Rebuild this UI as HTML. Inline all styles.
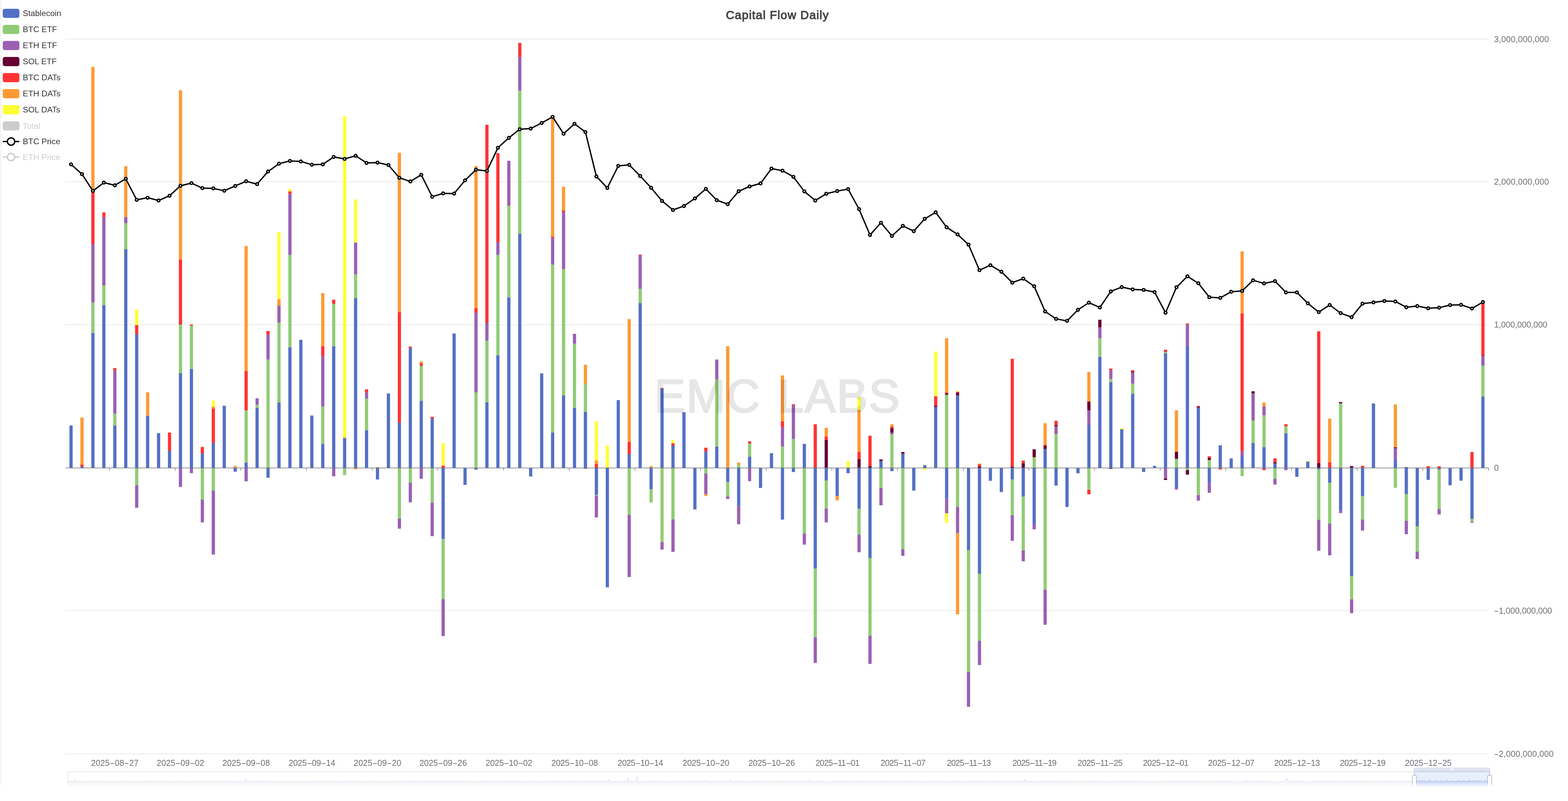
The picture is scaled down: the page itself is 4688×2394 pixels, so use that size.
<!DOCTYPE html>
<html lang="en"><head><meta charset="utf-8"><title>Capital Flow Daily</title>
<style>html,body{margin:0;padding:0;background:#fff;}body{width:4688px;height:2394px;overflow:hidden;font-family:'Liberation Sans', Arial, Helvetica, sans-serif;}svg{display:block;}text{font-family:'Liberation Sans', Arial, Helvetica, sans-serif;}</style>
</head><body>
<svg width="4688" height="2394" viewBox="0 0 4688 2394">
<defs>
<linearGradient id="edge" x1="0" y1="0" x2="1" y2="0"><stop offset="0" stop-color="#f5f5f5"/><stop offset="1" stop-color="#ffffff"/></linearGradient>
<linearGradient id="fade" x1="0" y1="0" x2="0" y2="1"><stop offset="0" stop-color="#fff" stop-opacity="0"/><stop offset="1" stop-color="#fff" stop-opacity="1"/></linearGradient>
</defs>
<rect width="4688" height="2394" fill="#fff"/>
<rect x="0" y="0" width="3.5" height="2394" fill="#f5f5f5"/>
<rect x="3.5" y="0" width="3.5" height="2394" fill="url(#edge)"/>
<g stroke="#e8e8e9" stroke-width="2">
<line x1="196" y1="116.8" x2="4450" y2="116.8"/>
<line x1="196" y1="543.1" x2="4450" y2="543.1"/>
<line x1="196" y1="970.6" x2="4450" y2="970.6"/>
<line x1="196" y1="1825.1" x2="4450" y2="1825.1"/>
<line x1="196" y1="2253.4" x2="4450" y2="2253.4"/>
</g>
<g id="bars">
<rect x="207.6" y="1271.6" width="9.6" height="127.1" fill="#5470c6"/>
<rect x="240.3" y="1394.9" width="9.6" height="3.8" fill="#5470c6"/>
<rect x="240.3" y="1389" width="9.6" height="5.9" fill="#ff3333"/>
<rect x="240.3" y="1247.8" width="9.6" height="141.2" fill="#ff9933"/>
<rect x="273" y="995.2" width="9.6" height="403.5" fill="#5470c6"/>
<rect x="273" y="904.6" width="9.6" height="90.6" fill="#91cc75"/>
<rect x="273" y="730.1" width="9.6" height="174.5" fill="#9a60b4"/>
<rect x="273" y="571" width="9.6" height="159.1" fill="#ff3333"/>
<rect x="273" y="200.1" width="9.6" height="370.9" fill="#ff9933"/>
<rect x="305.7" y="912" width="9.6" height="486.7" fill="#5470c6"/>
<rect x="305.7" y="853.5" width="9.6" height="58.5" fill="#91cc75"/>
<rect x="305.7" y="648.8" width="9.6" height="204.7" fill="#9a60b4"/>
<rect x="305.7" y="635" width="9.6" height="13.9" fill="#ff3333"/>
<rect x="338.5" y="1271.6" width="9.6" height="127.1" fill="#5470c6"/>
<rect x="338.5" y="1236.4" width="9.6" height="35.2" fill="#91cc75"/>
<rect x="338.5" y="1107.6" width="9.6" height="128.8" fill="#9a60b4"/>
<rect x="338.5" y="1100.2" width="9.6" height="7.4" fill="#ff3333"/>
<rect x="371.2" y="744.9" width="9.6" height="653.8" fill="#5470c6"/>
<rect x="371.2" y="667.2" width="9.6" height="77.8" fill="#91cc75"/>
<rect x="371.2" y="648.8" width="9.6" height="18.3" fill="#9a60b4"/>
<rect x="371.2" y="496.8" width="9.6" height="152.1" fill="#ff9933"/>
<rect x="403.9" y="998.7" width="9.6" height="400" fill="#5470c6"/>
<rect x="403.9" y="971.4" width="9.6" height="27.2" fill="#ff3333"/>
<rect x="403.9" y="925.4" width="9.6" height="46.1" fill="#ffff33"/>
<rect x="403.9" y="1398.7" width="9.6" height="51.1" fill="#91cc75"/>
<rect x="403.9" y="1449.8" width="9.6" height="67.9" fill="#9a60b4"/>
<rect x="436.6" y="1242.4" width="9.6" height="156.3" fill="#5470c6"/>
<rect x="436.6" y="1172.5" width="9.6" height="69.8" fill="#ff9933"/>
<rect x="469.3" y="1294.4" width="9.6" height="104.3" fill="#5470c6"/>
<rect x="502.1" y="1346.9" width="9.6" height="51.8" fill="#5470c6"/>
<rect x="502.1" y="1292.9" width="9.6" height="54" fill="#ff3333"/>
<rect x="534.8" y="1115.1" width="9.6" height="283.6" fill="#5470c6"/>
<rect x="534.8" y="969.9" width="9.6" height="145.1" fill="#91cc75"/>
<rect x="534.8" y="775.8" width="9.6" height="194.2" fill="#ff3333"/>
<rect x="534.8" y="269.9" width="9.6" height="505.9" fill="#ff9933"/>
<rect x="534.8" y="1398.7" width="9.6" height="56.6" fill="#9a60b4"/>
<rect x="567.5" y="1102.7" width="9.6" height="296" fill="#5470c6"/>
<rect x="567.5" y="973.4" width="9.6" height="129.3" fill="#91cc75"/>
<rect x="567.5" y="969.9" width="9.6" height="3.5" fill="#ff3333"/>
<rect x="567.5" y="1398.7" width="9.6" height="15.5" fill="#9a60b4"/>
<rect x="600.2" y="1355.3" width="9.6" height="43.4" fill="#5470c6"/>
<rect x="600.2" y="1337" width="9.6" height="18.3" fill="#ff3333"/>
<rect x="600.2" y="1335" width="9.6" height="2" fill="#ff9933"/>
<rect x="600.2" y="1398.7" width="9.6" height="94.2" fill="#91cc75"/>
<rect x="600.2" y="1492.9" width="9.6" height="68.4" fill="#9a60b4"/>
<rect x="633" y="1324.1" width="9.6" height="74.6" fill="#5470c6"/>
<rect x="633" y="1220.6" width="9.6" height="103.5" fill="#ff3333"/>
<rect x="633" y="1215.1" width="9.6" height="5.4" fill="#ff9933"/>
<rect x="633" y="1197.3" width="9.6" height="17.8" fill="#ffff33"/>
<rect x="633" y="1398.7" width="9.6" height="67.5" fill="#91cc75"/>
<rect x="633" y="1466.2" width="9.6" height="191.2" fill="#9a60b4"/>
<rect x="665.7" y="1212.7" width="9.6" height="186" fill="#5470c6"/>
<rect x="698.4" y="1392.5" width="9.6" height="6.2" fill="#ff9933"/>
<rect x="698.4" y="1398.7" width="9.6" height="11" fill="#5470c6"/>
<rect x="731.1" y="1382.6" width="9.6" height="16.1" fill="#5470c6"/>
<rect x="731.1" y="1226.5" width="9.6" height="156" fill="#91cc75"/>
<rect x="731.1" y="1109.1" width="9.6" height="117.4" fill="#ff3333"/>
<rect x="731.1" y="735.5" width="9.6" height="373.6" fill="#ff9933"/>
<rect x="731.1" y="1398.7" width="9.6" height="39.8" fill="#9a60b4"/>
<rect x="763.9" y="1218.6" width="9.6" height="180.1" fill="#5470c6"/>
<rect x="763.9" y="1209.7" width="9.6" height="8.9" fill="#91cc75"/>
<rect x="763.9" y="1190.4" width="9.6" height="19.3" fill="#9a60b4"/>
<rect x="796.6" y="1074.5" width="9.6" height="324.2" fill="#91cc75"/>
<rect x="796.6" y="1000.2" width="9.6" height="74.3" fill="#9a60b4"/>
<rect x="796.6" y="989.3" width="9.6" height="10.9" fill="#ff3333"/>
<rect x="796.6" y="1398.7" width="9.6" height="29.3" fill="#5470c6"/>
<rect x="829.3" y="1202.8" width="9.6" height="195.9" fill="#5470c6"/>
<rect x="829.3" y="964" width="9.6" height="238.8" fill="#91cc75"/>
<rect x="829.3" y="913.5" width="9.6" height="50.5" fill="#9a60b4"/>
<rect x="829.3" y="893.7" width="9.6" height="19.8" fill="#ff9933"/>
<rect x="829.3" y="693.4" width="9.6" height="200.2" fill="#ffff33"/>
<rect x="862" y="1037.8" width="9.6" height="360.9" fill="#5470c6"/>
<rect x="862" y="761.9" width="9.6" height="275.9" fill="#91cc75"/>
<rect x="862" y="579.5" width="9.6" height="182.4" fill="#9a60b4"/>
<rect x="862" y="572.1" width="9.6" height="7.4" fill="#ff3333"/>
<rect x="862" y="564.6" width="9.6" height="7.4" fill="#ffff33"/>
<rect x="894.7" y="1015.5" width="9.6" height="383.2" fill="#5470c6"/>
<rect x="927.5" y="1241.9" width="9.6" height="156.8" fill="#5470c6"/>
<rect x="960.2" y="1326.6" width="9.6" height="72.1" fill="#5470c6"/>
<rect x="960.2" y="1215.1" width="9.6" height="111.5" fill="#91cc75"/>
<rect x="960.2" y="1064.6" width="9.6" height="150.6" fill="#9a60b4"/>
<rect x="960.2" y="1034.3" width="9.6" height="30.2" fill="#ff3333"/>
<rect x="960.2" y="875.8" width="9.6" height="158.5" fill="#ff9933"/>
<rect x="992.9" y="1034.8" width="9.6" height="363.9" fill="#5470c6"/>
<rect x="992.9" y="908" width="9.6" height="126.8" fill="#91cc75"/>
<rect x="992.9" y="895.6" width="9.6" height="12.4" fill="#ff3333"/>
<rect x="992.9" y="1398.7" width="9.6" height="24.9" fill="#9a60b4"/>
<rect x="1025.6" y="1309.7" width="9.6" height="89" fill="#5470c6"/>
<rect x="1025.6" y="1306.8" width="9.6" height="3" fill="#ff9933"/>
<rect x="1025.6" y="347.7" width="9.6" height="959.1" fill="#ffff33"/>
<rect x="1025.6" y="1398.7" width="9.6" height="21.4" fill="#91cc75"/>
<rect x="1058.4" y="890.7" width="9.6" height="508" fill="#5470c6"/>
<rect x="1058.4" y="820.3" width="9.6" height="70.3" fill="#91cc75"/>
<rect x="1058.4" y="725.1" width="9.6" height="95.2" fill="#9a60b4"/>
<rect x="1058.4" y="596.3" width="9.6" height="128.8" fill="#ffff33"/>
<rect x="1058.4" y="1398.7" width="9.6" height="4.1" fill="#ff9933"/>
<rect x="1091.1" y="1286" width="9.6" height="112.7" fill="#5470c6"/>
<rect x="1091.1" y="1191.4" width="9.6" height="94.6" fill="#91cc75"/>
<rect x="1091.1" y="1172.5" width="9.6" height="18.8" fill="#9a60b4"/>
<rect x="1091.1" y="1163.6" width="9.6" height="8.9" fill="#ff3333"/>
<rect x="1123.8" y="1395.9" width="9.6" height="2.8" fill="#ff9933"/>
<rect x="1123.8" y="1398.7" width="9.6" height="34.3" fill="#5470c6"/>
<rect x="1156.5" y="1176" width="9.6" height="222.7" fill="#5470c6"/>
<rect x="1189.3" y="1263.2" width="9.6" height="135.5" fill="#5470c6"/>
<rect x="1189.3" y="932.8" width="9.6" height="330.4" fill="#ff3333"/>
<rect x="1189.3" y="456.6" width="9.6" height="476.1" fill="#ff9933"/>
<rect x="1189.3" y="1398.7" width="9.6" height="151.2" fill="#91cc75"/>
<rect x="1189.3" y="1549.9" width="9.6" height="30.2" fill="#9a60b4"/>
<rect x="1222" y="1039.8" width="9.6" height="358.9" fill="#5470c6"/>
<rect x="1222" y="1035.8" width="9.6" height="4" fill="#ff3333"/>
<rect x="1222" y="1398.7" width="9.6" height="43.7" fill="#91cc75"/>
<rect x="1222" y="1442.4" width="9.6" height="58.9" fill="#9a60b4"/>
<rect x="1254.7" y="1197.8" width="9.6" height="200.9" fill="#5470c6"/>
<rect x="1254.7" y="1093.8" width="9.6" height="104" fill="#91cc75"/>
<rect x="1254.7" y="1085.4" width="9.6" height="8.4" fill="#ff3333"/>
<rect x="1254.7" y="1080.4" width="9.6" height="5" fill="#ff9933"/>
<rect x="1254.7" y="1398.7" width="9.6" height="32.3" fill="#9a60b4"/>
<rect x="1287.4" y="1251.3" width="9.6" height="147.4" fill="#5470c6"/>
<rect x="1287.4" y="1245.8" width="9.6" height="5.4" fill="#ff3333"/>
<rect x="1287.4" y="1398.7" width="9.6" height="103.6" fill="#91cc75"/>
<rect x="1287.4" y="1502.3" width="9.6" height="100.1" fill="#9a60b4"/>
<rect x="1320.1" y="1391.5" width="9.6" height="7.2" fill="#ff3333"/>
<rect x="1320.1" y="1324.6" width="9.6" height="66.9" fill="#ffff33"/>
<rect x="1320.1" y="1398.7" width="9.6" height="212.1" fill="#5470c6"/>
<rect x="1320.1" y="1610.8" width="9.6" height="179.8" fill="#91cc75"/>
<rect x="1320.1" y="1790.6" width="9.6" height="110.5" fill="#9a60b4"/>
<rect x="1352.9" y="996.7" width="9.6" height="402" fill="#5470c6"/>
<rect x="1385.6" y="1398.7" width="9.6" height="50.6" fill="#5470c6"/>
<rect x="1418.3" y="1172.5" width="9.6" height="226.2" fill="#91cc75"/>
<rect x="1418.3" y="934.3" width="9.6" height="238.3" fill="#9a60b4"/>
<rect x="1418.3" y="920.9" width="9.6" height="13.4" fill="#ff3333"/>
<rect x="1418.3" y="496.3" width="9.6" height="424.6" fill="#ff9933"/>
<rect x="1418.3" y="1398.7" width="9.6" height="5.1" fill="#5470c6"/>
<rect x="1451" y="1201.8" width="9.6" height="196.9" fill="#5470c6"/>
<rect x="1451" y="1018.5" width="9.6" height="183.3" fill="#91cc75"/>
<rect x="1451" y="965" width="9.6" height="53.5" fill="#9a60b4"/>
<rect x="1451" y="372.9" width="9.6" height="592.1" fill="#ff3333"/>
<rect x="1483.8" y="1061.6" width="9.6" height="337.1" fill="#5470c6"/>
<rect x="1483.8" y="761.9" width="9.6" height="299.7" fill="#91cc75"/>
<rect x="1483.8" y="724.1" width="9.6" height="37.8" fill="#9a60b4"/>
<rect x="1483.8" y="457.6" width="9.6" height="266.5" fill="#ff3333"/>
<rect x="1516.5" y="888.7" width="9.6" height="510" fill="#5470c6"/>
<rect x="1516.5" y="615.2" width="9.6" height="273.5" fill="#91cc75"/>
<rect x="1516.5" y="480.4" width="9.6" height="134.7" fill="#9a60b4"/>
<rect x="1549.2" y="698.4" width="9.6" height="700.3" fill="#5470c6"/>
<rect x="1549.2" y="270.9" width="9.6" height="427.5" fill="#91cc75"/>
<rect x="1549.2" y="170.8" width="9.6" height="100.1" fill="#9a60b4"/>
<rect x="1549.2" y="128.2" width="9.6" height="42.6" fill="#ff3333"/>
<rect x="1581.9" y="1398.7" width="9.6" height="25.4" fill="#5470c6"/>
<rect x="1614.7" y="1116.1" width="9.6" height="282.6" fill="#5470c6"/>
<rect x="1647.4" y="1292.4" width="9.6" height="106.3" fill="#5470c6"/>
<rect x="1647.4" y="790.6" width="9.6" height="501.8" fill="#91cc75"/>
<rect x="1647.4" y="710.3" width="9.6" height="80.4" fill="#9a60b4"/>
<rect x="1647.4" y="706.8" width="9.6" height="3.5" fill="#ff3333"/>
<rect x="1647.4" y="352.6" width="9.6" height="354.2" fill="#ff9933"/>
<rect x="1680.1" y="1181.5" width="9.6" height="217.2" fill="#5470c6"/>
<rect x="1680.1" y="804.5" width="9.6" height="377" fill="#91cc75"/>
<rect x="1680.1" y="634" width="9.6" height="170.5" fill="#9a60b4"/>
<rect x="1680.1" y="629" width="9.6" height="5" fill="#ff3333"/>
<rect x="1680.1" y="558.2" width="9.6" height="70.8" fill="#ff9933"/>
<rect x="1712.8" y="1219.1" width="9.6" height="179.6" fill="#5470c6"/>
<rect x="1712.8" y="1027.4" width="9.6" height="191.7" fill="#91cc75"/>
<rect x="1712.8" y="997.7" width="9.6" height="29.7" fill="#9a60b4"/>
<rect x="1745.5" y="1230.5" width="9.6" height="168.2" fill="#5470c6"/>
<rect x="1745.5" y="1147.3" width="9.6" height="83.2" fill="#91cc75"/>
<rect x="1745.5" y="1090.3" width="9.6" height="57" fill="#ff9933"/>
<rect x="1745.5" y="1398.7" width="9.6" height="2.6" fill="#9a60b4"/>
<rect x="1778.3" y="1386.5" width="9.6" height="12.2" fill="#ff3333"/>
<rect x="1778.3" y="1376.1" width="9.6" height="10.4" fill="#ff9933"/>
<rect x="1778.3" y="1259.2" width="9.6" height="116.9" fill="#ffff33"/>
<rect x="1778.3" y="1398.7" width="9.6" height="80.4" fill="#5470c6"/>
<rect x="1778.3" y="1479.1" width="9.6" height="2.5" fill="#91cc75"/>
<rect x="1778.3" y="1481.5" width="9.6" height="64.9" fill="#9a60b4"/>
<rect x="1811" y="1331.5" width="9.6" height="67.2" fill="#ffff33"/>
<rect x="1811" y="1398.7" width="9.6" height="356.8" fill="#5470c6"/>
<rect x="1843.7" y="1195.8" width="9.6" height="202.9" fill="#5470c6"/>
<rect x="1876.4" y="1356.8" width="9.6" height="41.9" fill="#5470c6"/>
<rect x="1876.4" y="1320.6" width="9.6" height="36.2" fill="#ff3333"/>
<rect x="1876.4" y="953.6" width="9.6" height="367" fill="#ff9933"/>
<rect x="1876.4" y="1398.7" width="9.6" height="139.8" fill="#91cc75"/>
<rect x="1876.4" y="1538.5" width="9.6" height="186.2" fill="#9a60b4"/>
<rect x="1909.2" y="906" width="9.6" height="492.7" fill="#5470c6"/>
<rect x="1909.2" y="862.9" width="9.6" height="43.1" fill="#91cc75"/>
<rect x="1909.2" y="763.4" width="9.6" height="99.6" fill="#9a60b4"/>
<rect x="1909.2" y="760.9" width="9.6" height="2.5" fill="#ff3333"/>
<rect x="1941.9" y="1392.9" width="9.6" height="5.8" fill="#ff9933"/>
<rect x="1941.9" y="1398.7" width="9.6" height="63.5" fill="#5470c6"/>
<rect x="1941.9" y="1462.2" width="9.6" height="39.6" fill="#91cc75"/>
<rect x="1974.6" y="1161.1" width="9.6" height="237.6" fill="#5470c6"/>
<rect x="1974.6" y="1159.7" width="9.6" height="1.5" fill="#ff3333"/>
<rect x="1974.6" y="1398.7" width="9.6" height="221.5" fill="#91cc75"/>
<rect x="1974.6" y="1620.2" width="9.6" height="22.3" fill="#9a60b4"/>
<rect x="2007.3" y="1332" width="9.6" height="66.7" fill="#5470c6"/>
<rect x="2007.3" y="1324.6" width="9.6" height="7.4" fill="#ff3333"/>
<rect x="2007.3" y="1315.7" width="9.6" height="8.9" fill="#ffff33"/>
<rect x="2007.3" y="1398.7" width="9.6" height="153.7" fill="#91cc75"/>
<rect x="2007.3" y="1552.4" width="9.6" height="97.1" fill="#9a60b4"/>
<rect x="2040.1" y="1232" width="9.6" height="166.7" fill="#5470c6"/>
<rect x="2072.8" y="1398.7" width="9.6" height="124" fill="#5470c6"/>
<rect x="2105.5" y="1349.4" width="9.6" height="49.3" fill="#5470c6"/>
<rect x="2105.5" y="1338" width="9.6" height="11.4" fill="#ff3333"/>
<rect x="2105.5" y="1398.7" width="9.6" height="16.5" fill="#91cc75"/>
<rect x="2105.5" y="1415.2" width="9.6" height="61.9" fill="#9a60b4"/>
<rect x="2105.5" y="1477.1" width="9.6" height="5.4" fill="#ff9933"/>
<rect x="2138.2" y="1334.5" width="9.6" height="64.2" fill="#5470c6"/>
<rect x="2138.2" y="1133.9" width="9.6" height="200.6" fill="#91cc75"/>
<rect x="2138.2" y="1074.5" width="9.6" height="59.4" fill="#9a60b4"/>
<rect x="2170.9" y="1034.8" width="9.6" height="363.9" fill="#ff9933"/>
<rect x="2170.9" y="1398.7" width="9.6" height="41.7" fill="#5470c6"/>
<rect x="2170.9" y="1440.4" width="9.6" height="43.6" fill="#91cc75"/>
<rect x="2170.9" y="1484" width="9.6" height="7.4" fill="#9a60b4"/>
<rect x="2203.7" y="1389" width="9.6" height="9.7" fill="#91cc75"/>
<rect x="2203.7" y="1382.6" width="9.6" height="6.4" fill="#ff9933"/>
<rect x="2203.7" y="1398.7" width="9.6" height="113.6" fill="#5470c6"/>
<rect x="2203.7" y="1512.3" width="9.6" height="54.5" fill="#9a60b4"/>
<rect x="2236.4" y="1364.7" width="9.6" height="34" fill="#5470c6"/>
<rect x="2236.4" y="1325.6" width="9.6" height="39.1" fill="#91cc75"/>
<rect x="2236.4" y="1319.2" width="9.6" height="6.4" fill="#ff3333"/>
<rect x="2236.4" y="1398.7" width="9.6" height="39.3" fill="#9a60b4"/>
<rect x="2269.1" y="1398.7" width="9.6" height="59.6" fill="#5470c6"/>
<rect x="2301.8" y="1354.3" width="9.6" height="44.4" fill="#5470c6"/>
<rect x="2334.6" y="1334.5" width="9.6" height="64.2" fill="#91cc75"/>
<rect x="2334.6" y="1277.1" width="9.6" height="57.5" fill="#9a60b4"/>
<rect x="2334.6" y="1258.7" width="9.6" height="18.3" fill="#ff3333"/>
<rect x="2334.6" y="1122" width="9.6" height="136.7" fill="#ff9933"/>
<rect x="2334.6" y="1398.7" width="9.6" height="154.2" fill="#5470c6"/>
<rect x="2367.3" y="1311.7" width="9.6" height="87" fill="#91cc75"/>
<rect x="2367.3" y="1211.7" width="9.6" height="100.1" fill="#9a60b4"/>
<rect x="2367.3" y="1208.2" width="9.6" height="3.5" fill="#ff3333"/>
<rect x="2367.3" y="1398.7" width="9.6" height="12" fill="#5470c6"/>
<rect x="2400" y="1326.6" width="9.6" height="72.1" fill="#5470c6"/>
<rect x="2400" y="1398.7" width="9.6" height="195.8" fill="#91cc75"/>
<rect x="2400" y="1594.5" width="9.6" height="33.2" fill="#9a60b4"/>
<rect x="2432.7" y="1268.1" width="9.6" height="130.6" fill="#ff3333"/>
<rect x="2432.7" y="1398.7" width="9.6" height="300.3" fill="#5470c6"/>
<rect x="2432.7" y="1699" width="9.6" height="206.1" fill="#91cc75"/>
<rect x="2432.7" y="1905.1" width="9.6" height="76.3" fill="#9a60b4"/>
<rect x="2465.5" y="1314.7" width="9.6" height="84" fill="#660033"/>
<rect x="2465.5" y="1304.3" width="9.6" height="10.4" fill="#ff3333"/>
<rect x="2465.5" y="1278.5" width="9.6" height="25.8" fill="#ff9933"/>
<rect x="2465.5" y="1398.7" width="9.6" height="37.8" fill="#5470c6"/>
<rect x="2465.5" y="1436.5" width="9.6" height="83.2" fill="#91cc75"/>
<rect x="2465.5" y="1519.7" width="9.6" height="41.6" fill="#9a60b4"/>
<rect x="2498.2" y="1398.7" width="9.6" height="83.3" fill="#5470c6"/>
<rect x="2498.2" y="1482" width="9.6" height="13.4" fill="#ff9933"/>
<rect x="2530.9" y="1377.6" width="9.6" height="21.1" fill="#ffff33"/>
<rect x="2530.9" y="1398.7" width="9.6" height="15.5" fill="#5470c6"/>
<rect x="2563.6" y="1371.7" width="9.6" height="27" fill="#660033"/>
<rect x="2563.6" y="1350.4" width="9.6" height="21.3" fill="#ff3333"/>
<rect x="2563.6" y="1225" width="9.6" height="125.3" fill="#ff9933"/>
<rect x="2563.6" y="1187.4" width="9.6" height="37.6" fill="#ffff33"/>
<rect x="2563.6" y="1398.7" width="9.6" height="122" fill="#5470c6"/>
<rect x="2563.6" y="1520.7" width="9.6" height="77.3" fill="#91cc75"/>
<rect x="2563.6" y="1598" width="9.6" height="52.5" fill="#9a60b4"/>
<rect x="2596.3" y="1392.5" width="9.6" height="6.2" fill="#660033"/>
<rect x="2596.3" y="1302.3" width="9.6" height="90.2" fill="#ff3333"/>
<rect x="2596.3" y="1398.7" width="9.6" height="269.6" fill="#5470c6"/>
<rect x="2596.3" y="1668.3" width="9.6" height="231.8" fill="#91cc75"/>
<rect x="2596.3" y="1900.1" width="9.6" height="84.2" fill="#9a60b4"/>
<rect x="2629.1" y="1378.1" width="9.6" height="20.6" fill="#5470c6"/>
<rect x="2629.1" y="1373.1" width="9.6" height="5" fill="#660033"/>
<rect x="2629.1" y="1398.7" width="9.6" height="59.1" fill="#91cc75"/>
<rect x="2629.1" y="1457.8" width="9.6" height="52.5" fill="#9a60b4"/>
<rect x="2661.8" y="1298.4" width="9.6" height="100.3" fill="#91cc75"/>
<rect x="2661.8" y="1293.4" width="9.6" height="5" fill="#9a60b4"/>
<rect x="2661.8" y="1280" width="9.6" height="13.4" fill="#660033"/>
<rect x="2661.8" y="1274.6" width="9.6" height="5.4" fill="#ff3333"/>
<rect x="2661.8" y="1268.1" width="9.6" height="6.4" fill="#ff9933"/>
<rect x="2661.8" y="1398.7" width="9.6" height="9.5" fill="#5470c6"/>
<rect x="2694.5" y="1356.3" width="9.6" height="42.4" fill="#5470c6"/>
<rect x="2694.5" y="1350.9" width="9.6" height="5.4" fill="#660033"/>
<rect x="2694.5" y="1398.7" width="9.6" height="242.8" fill="#91cc75"/>
<rect x="2694.5" y="1641.5" width="9.6" height="19.8" fill="#9a60b4"/>
<rect x="2727.2" y="1398.7" width="9.6" height="67.5" fill="#5470c6"/>
<rect x="2760" y="1390.3" width="9.6" height="8.4" fill="#5470c6"/>
<rect x="2760" y="1398.7" width="9.6" height="5.5" fill="#ffff33"/>
<rect x="2792.7" y="1216" width="9.6" height="182.7" fill="#5470c6"/>
<rect x="2792.7" y="1213" width="9.6" height="3" fill="#660033"/>
<rect x="2792.7" y="1184.3" width="9.6" height="28.7" fill="#ff3333"/>
<rect x="2792.7" y="1051" width="9.6" height="133.2" fill="#ffff33"/>
<rect x="2825.4" y="1179.8" width="9.6" height="218.9" fill="#91cc75"/>
<rect x="2825.4" y="1175.8" width="9.6" height="4" fill="#660033"/>
<rect x="2825.4" y="1172.9" width="9.6" height="3" fill="#ff3333"/>
<rect x="2825.4" y="1010.9" width="9.6" height="162" fill="#ff9933"/>
<rect x="2825.4" y="1398.7" width="9.6" height="91.7" fill="#5470c6"/>
<rect x="2825.4" y="1490.4" width="9.6" height="43.6" fill="#9a60b4"/>
<rect x="2825.4" y="1534" width="9.6" height="29.2" fill="#ffff33"/>
<rect x="2858.1" y="1181.8" width="9.6" height="216.9" fill="#5470c6"/>
<rect x="2858.1" y="1173.4" width="9.6" height="8.4" fill="#660033"/>
<rect x="2858.1" y="1170.9" width="9.6" height="2.5" fill="#ff3333"/>
<rect x="2858.1" y="1168.4" width="9.6" height="2.5" fill="#ffff33"/>
<rect x="2858.1" y="1398.7" width="9.6" height="116.5" fill="#91cc75"/>
<rect x="2858.1" y="1515.2" width="9.6" height="78.3" fill="#9a60b4"/>
<rect x="2858.1" y="1593.4" width="9.6" height="242.7" fill="#ff9933"/>
<rect x="2890.9" y="1398.7" width="9.6" height="245.3" fill="#5470c6"/>
<rect x="2890.9" y="1644" width="9.6" height="364.1" fill="#91cc75"/>
<rect x="2890.9" y="2008" width="9.6" height="104.5" fill="#9a60b4"/>
<rect x="2923.6" y="1393.8" width="9.6" height="4.9" fill="#660033"/>
<rect x="2923.6" y="1387.9" width="9.6" height="5.9" fill="#ff3333"/>
<rect x="2923.6" y="1385.4" width="9.6" height="2.5" fill="#ff9933"/>
<rect x="2923.6" y="1398.7" width="9.6" height="316.6" fill="#5470c6"/>
<rect x="2923.6" y="1715.3" width="9.6" height="199.6" fill="#91cc75"/>
<rect x="2923.6" y="1914.9" width="9.6" height="72.8" fill="#9a60b4"/>
<rect x="2956.3" y="1398.7" width="9.6" height="38.2" fill="#5470c6"/>
<rect x="2989" y="1398.7" width="9.6" height="71.9" fill="#5470c6"/>
<rect x="3021.7" y="1394.8" width="9.6" height="3.9" fill="#660033"/>
<rect x="3021.7" y="1072.3" width="9.6" height="322.5" fill="#ff3333"/>
<rect x="3021.7" y="1398.7" width="9.6" height="34.7" fill="#5470c6"/>
<rect x="3021.7" y="1433.4" width="9.6" height="106.5" fill="#91cc75"/>
<rect x="3021.7" y="1539.9" width="9.6" height="76.3" fill="#9a60b4"/>
<rect x="3054.5" y="1384.9" width="9.6" height="13.8" fill="#660033"/>
<rect x="3054.5" y="1376.5" width="9.6" height="8.4" fill="#ff3333"/>
<rect x="3054.5" y="1398.7" width="9.6" height="85.7" fill="#5470c6"/>
<rect x="3054.5" y="1484.4" width="9.6" height="160.5" fill="#91cc75"/>
<rect x="3054.5" y="1645" width="9.6" height="32.7" fill="#9a60b4"/>
<rect x="3087.2" y="1366.6" width="9.6" height="32.1" fill="#91cc75"/>
<rect x="3087.2" y="1342.8" width="9.6" height="23.8" fill="#660033"/>
<rect x="3087.2" y="1398.7" width="9.6" height="167.5" fill="#5470c6"/>
<rect x="3087.2" y="1566.2" width="9.6" height="15.9" fill="#9a60b4"/>
<rect x="3119.9" y="1341.8" width="9.6" height="56.9" fill="#5470c6"/>
<rect x="3119.9" y="1331.9" width="9.6" height="9.9" fill="#660033"/>
<rect x="3119.9" y="1329.4" width="9.6" height="2.5" fill="#ff3333"/>
<rect x="3119.9" y="1265" width="9.6" height="64.4" fill="#ff9933"/>
<rect x="3119.9" y="1398.7" width="9.6" height="364.1" fill="#91cc75"/>
<rect x="3119.9" y="1762.8" width="9.6" height="104.5" fill="#9a60b4"/>
<rect x="3152.6" y="1297.7" width="9.6" height="101" fill="#91cc75"/>
<rect x="3152.6" y="1273.9" width="9.6" height="23.8" fill="#9a60b4"/>
<rect x="3152.6" y="1271" width="9.6" height="3" fill="#660033"/>
<rect x="3152.6" y="1257.6" width="9.6" height="13.4" fill="#ff3333"/>
<rect x="3152.6" y="1398.7" width="9.6" height="52.6" fill="#5470c6"/>
<rect x="3185.4" y="1398.7" width="9.6" height="116.5" fill="#5470c6"/>
<rect x="3218.1" y="1398.7" width="9.6" height="15.9" fill="#5470c6"/>
<rect x="3250.8" y="1270" width="9.6" height="128.7" fill="#5470c6"/>
<rect x="3250.8" y="1226.4" width="9.6" height="43.6" fill="#9a60b4"/>
<rect x="3250.8" y="1200.1" width="9.6" height="26.3" fill="#660033"/>
<rect x="3250.8" y="1111.9" width="9.6" height="88.2" fill="#ff9933"/>
<rect x="3250.8" y="1398.7" width="9.6" height="64.9" fill="#91cc75"/>
<rect x="3250.8" y="1463.6" width="9.6" height="13.9" fill="#ff3333"/>
<rect x="3283.5" y="1066.9" width="9.6" height="331.8" fill="#5470c6"/>
<rect x="3283.5" y="1010.9" width="9.6" height="56" fill="#91cc75"/>
<rect x="3283.5" y="977.9" width="9.6" height="33" fill="#9a60b4"/>
<rect x="3283.5" y="955.6" width="9.6" height="22.3" fill="#660033"/>
<rect x="3316.3" y="1141.7" width="9.6" height="257" fill="#5470c6"/>
<rect x="3316.3" y="1132.8" width="9.6" height="8.9" fill="#91cc75"/>
<rect x="3316.3" y="1106.5" width="9.6" height="26.3" fill="#9a60b4"/>
<rect x="3316.3" y="1101.5" width="9.6" height="5" fill="#ff3333"/>
<rect x="3316.3" y="1398.7" width="9.6" height="2.5" fill="#660033"/>
<rect x="3349" y="1282.8" width="9.6" height="115.9" fill="#5470c6"/>
<rect x="3349" y="1278.9" width="9.6" height="4" fill="#ffff33"/>
<rect x="3381.7" y="1176.8" width="9.6" height="221.9" fill="#5470c6"/>
<rect x="3381.7" y="1146.6" width="9.6" height="30.2" fill="#91cc75"/>
<rect x="3381.7" y="1112.9" width="9.6" height="33.7" fill="#9a60b4"/>
<rect x="3381.7" y="1111" width="9.6" height="2" fill="#660033"/>
<rect x="3381.7" y="1106.5" width="9.6" height="4.5" fill="#ff3333"/>
<rect x="3414.4" y="1398.7" width="9.6" height="11.9" fill="#5470c6"/>
<rect x="3447.1" y="1392.3" width="9.6" height="6.4" fill="#5470c6"/>
<rect x="3479.9" y="1056" width="9.6" height="342.7" fill="#5470c6"/>
<rect x="3479.9" y="1052" width="9.6" height="4" fill="#91cc75"/>
<rect x="3479.9" y="1045.1" width="9.6" height="6.9" fill="#ff3333"/>
<rect x="3479.9" y="1398.7" width="9.6" height="31.3" fill="#9a60b4"/>
<rect x="3479.9" y="1430" width="9.6" height="4.5" fill="#660033"/>
<rect x="3512.6" y="1371.5" width="9.6" height="27.2" fill="#91cc75"/>
<rect x="3512.6" y="1350.2" width="9.6" height="21.3" fill="#660033"/>
<rect x="3512.6" y="1226.4" width="9.6" height="123.8" fill="#ff9933"/>
<rect x="3512.6" y="1398.7" width="9.6" height="59.5" fill="#5470c6"/>
<rect x="3512.6" y="1458.2" width="9.6" height="5" fill="#9a60b4"/>
<rect x="3545.3" y="1033.7" width="9.6" height="365" fill="#5470c6"/>
<rect x="3545.3" y="969.5" width="9.6" height="64.2" fill="#9a60b4"/>
<rect x="3545.3" y="966.5" width="9.6" height="3" fill="#ff3333"/>
<rect x="3545.3" y="1398.7" width="9.6" height="6" fill="#91cc75"/>
<rect x="3545.3" y="1404.7" width="9.6" height="13.9" fill="#660033"/>
<rect x="3578" y="1218" width="9.6" height="180.7" fill="#5470c6"/>
<rect x="3578" y="1216" width="9.6" height="2" fill="#660033"/>
<rect x="3578" y="1213" width="9.6" height="3" fill="#ff3333"/>
<rect x="3578" y="1398.7" width="9.6" height="80.8" fill="#91cc75"/>
<rect x="3578" y="1479.5" width="9.6" height="16.8" fill="#9a60b4"/>
<rect x="3610.8" y="1375" width="9.6" height="23.7" fill="#91cc75"/>
<rect x="3610.8" y="1369" width="9.6" height="5.9" fill="#660033"/>
<rect x="3610.8" y="1363.6" width="9.6" height="5.4" fill="#ff3333"/>
<rect x="3610.8" y="1398.7" width="9.6" height="44.1" fill="#5470c6"/>
<rect x="3610.8" y="1442.8" width="9.6" height="30.2" fill="#9a60b4"/>
<rect x="3643.5" y="1330.9" width="9.6" height="67.8" fill="#5470c6"/>
<rect x="3643.5" y="1398.7" width="9.6" height="4.5" fill="#ff3333"/>
<rect x="3676.2" y="1370" width="9.6" height="28.7" fill="#5470c6"/>
<rect x="3708.9" y="1364.1" width="9.6" height="34.6" fill="#5470c6"/>
<rect x="3708.9" y="1348.2" width="9.6" height="15.9" fill="#9a60b4"/>
<rect x="3708.9" y="936.8" width="9.6" height="411.4" fill="#ff3333"/>
<rect x="3708.9" y="751.5" width="9.6" height="185.3" fill="#ff9933"/>
<rect x="3708.9" y="1398.7" width="9.6" height="24.3" fill="#91cc75"/>
<rect x="3741.7" y="1323.5" width="9.6" height="75.2" fill="#5470c6"/>
<rect x="3741.7" y="1257.1" width="9.6" height="66.4" fill="#91cc75"/>
<rect x="3741.7" y="1175.8" width="9.6" height="81.2" fill="#9a60b4"/>
<rect x="3741.7" y="1169.4" width="9.6" height="6.4" fill="#660033"/>
<rect x="3774.4" y="1336.3" width="9.6" height="62.4" fill="#5470c6"/>
<rect x="3774.4" y="1241.2" width="9.6" height="95.1" fill="#91cc75"/>
<rect x="3774.4" y="1214.5" width="9.6" height="26.7" fill="#9a60b4"/>
<rect x="3774.4" y="1203.1" width="9.6" height="11.4" fill="#ff9933"/>
<rect x="3774.4" y="1398.7" width="9.6" height="6.5" fill="#ff3333"/>
<rect x="3807.1" y="1385.4" width="9.6" height="13.3" fill="#5470c6"/>
<rect x="3807.1" y="1381.4" width="9.6" height="4" fill="#660033"/>
<rect x="3807.1" y="1370" width="9.6" height="11.4" fill="#ff3333"/>
<rect x="3807.1" y="1398.7" width="9.6" height="32.2" fill="#91cc75"/>
<rect x="3807.1" y="1430.9" width="9.6" height="17.3" fill="#9a60b4"/>
<rect x="3839.8" y="1294.7" width="9.6" height="104" fill="#5470c6"/>
<rect x="3839.8" y="1274.4" width="9.6" height="20.3" fill="#91cc75"/>
<rect x="3839.8" y="1268" width="9.6" height="6.4" fill="#ff3333"/>
<rect x="3839.8" y="1398.7" width="9.6" height="6.5" fill="#9a60b4"/>
<rect x="3872.5" y="1398.7" width="9.6" height="26.3" fill="#5470c6"/>
<rect x="3905.3" y="1379.4" width="9.6" height="19.3" fill="#5470c6"/>
<rect x="3905.3" y="1377.5" width="9.6" height="2" fill="#ffff33"/>
<rect x="3938" y="1383.4" width="9.6" height="15.3" fill="#660033"/>
<rect x="3938" y="990.3" width="9.6" height="393.1" fill="#ff3333"/>
<rect x="3938" y="1398.7" width="9.6" height="4" fill="#5470c6"/>
<rect x="3938" y="1402.7" width="9.6" height="150.6" fill="#91cc75"/>
<rect x="3938" y="1553.3" width="9.6" height="92.6" fill="#9a60b4"/>
<rect x="3970.7" y="1381.4" width="9.6" height="17.3" fill="#ff3333"/>
<rect x="3970.7" y="1251.1" width="9.6" height="130.3" fill="#ff9933"/>
<rect x="3970.7" y="1398.7" width="9.6" height="44.6" fill="#5470c6"/>
<rect x="3970.7" y="1443.3" width="9.6" height="121.4" fill="#91cc75"/>
<rect x="3970.7" y="1564.7" width="9.6" height="95.1" fill="#9a60b4"/>
<rect x="4003.4" y="1205.6" width="9.6" height="193.1" fill="#91cc75"/>
<rect x="4003.4" y="1201.6" width="9.6" height="4" fill="#660033"/>
<rect x="4003.4" y="1398.7" width="9.6" height="126.4" fill="#5470c6"/>
<rect x="4003.4" y="1525.1" width="9.6" height="8.4" fill="#9a60b4"/>
<rect x="4036.2" y="1392.7" width="9.6" height="6" fill="#660033"/>
<rect x="4036.2" y="1398.7" width="9.6" height="323.7" fill="#5470c6"/>
<rect x="4036.2" y="1722.4" width="9.6" height="68.9" fill="#91cc75"/>
<rect x="4036.2" y="1791.3" width="9.6" height="41.4" fill="#9a60b4"/>
<rect x="4068.9" y="1392" width="9.6" height="6.7" fill="#ff3333"/>
<rect x="4068.9" y="1398.7" width="9.6" height="83.3" fill="#5470c6"/>
<rect x="4068.9" y="1482" width="9.6" height="71" fill="#91cc75"/>
<rect x="4068.9" y="1553" width="9.6" height="32.7" fill="#9a60b4"/>
<rect x="4101.6" y="1205.9" width="9.6" height="192.8" fill="#5470c6"/>
<rect x="4167.1" y="1374.8" width="9.6" height="23.9" fill="#5470c6"/>
<rect x="4167.1" y="1339.6" width="9.6" height="35.2" fill="#9a60b4"/>
<rect x="4167.1" y="1336.8" width="9.6" height="2.8" fill="#660033"/>
<rect x="4167.1" y="1209" width="9.6" height="127.9" fill="#ff9933"/>
<rect x="4167.1" y="1398.7" width="9.6" height="59.1" fill="#91cc75"/>
<rect x="4199.8" y="1396.5" width="9.6" height="2.2" fill="#660033"/>
<rect x="4199.8" y="1398.7" width="9.6" height="78.1" fill="#5470c6"/>
<rect x="4199.8" y="1476.8" width="9.6" height="79.6" fill="#91cc75"/>
<rect x="4199.8" y="1556.4" width="9.6" height="40.3" fill="#9a60b4"/>
<rect x="4232.5" y="1398.7" width="9.6" height="174.3" fill="#5470c6"/>
<rect x="4232.5" y="1573" width="9.6" height="76" fill="#91cc75"/>
<rect x="4232.5" y="1649" width="9.6" height="21.7" fill="#9a60b4"/>
<rect x="4265.2" y="1393.4" width="9.6" height="5.3" fill="#ff3333"/>
<rect x="4265.2" y="1398.7" width="9.6" height="35.7" fill="#5470c6"/>
<rect x="4297.9" y="1393.4" width="9.6" height="5.3" fill="#ff3333"/>
<rect x="4297.9" y="1398.7" width="9.6" height="4.7" fill="#5470c6"/>
<rect x="4297.9" y="1403.4" width="9.6" height="117.9" fill="#91cc75"/>
<rect x="4297.9" y="1521.3" width="9.6" height="16.2" fill="#9a60b4"/>
<rect x="4330.7" y="1398.7" width="9.6" height="51.6" fill="#5470c6"/>
<rect x="4363.4" y="1398.7" width="9.6" height="37.8" fill="#5470c6"/>
<rect x="4396.1" y="1351" width="9.6" height="47.7" fill="#ff3333"/>
<rect x="4396.1" y="1398.7" width="9.6" height="152.6" fill="#5470c6"/>
<rect x="4396.1" y="1551.3" width="9.6" height="9" fill="#91cc75"/>
<rect x="4396.1" y="1560.2" width="9.6" height="2.4" fill="#9a60b4"/>
<rect x="4428.8" y="1185.2" width="9.6" height="213.5" fill="#5470c6"/>
<rect x="4428.8" y="1093" width="9.6" height="92.2" fill="#91cc75"/>
<rect x="4428.8" y="1063.4" width="9.6" height="29.6" fill="#9a60b4"/>
<rect x="4428.8" y="1062" width="9.6" height="1.4" fill="#660033"/>
<rect x="4428.8" y="905" width="9.6" height="157" fill="#ff3333"/>
</g>
<g stroke="#6e7079" stroke-width="1.8" fill="none">
<line x1="196" y1="1398.7" x2="4451" y2="1398.7"/>
<line x1="327.4" y1="1398.7" x2="327.4" y2="1406.9" stroke-width="1.5"/>
<line x1="523.7" y1="1398.7" x2="523.7" y2="1406.9" stroke-width="1.5"/>
<line x1="720.1" y1="1398.7" x2="720.1" y2="1406.9" stroke-width="1.5"/>
<line x1="916.4" y1="1398.7" x2="916.4" y2="1406.9" stroke-width="1.5"/>
<line x1="1112.7" y1="1398.7" x2="1112.7" y2="1406.9" stroke-width="1.5"/>
<line x1="1309.1" y1="1398.7" x2="1309.1" y2="1406.9" stroke-width="1.5"/>
<line x1="1505.4" y1="1398.7" x2="1505.4" y2="1406.9" stroke-width="1.5"/>
<line x1="1701.8" y1="1398.7" x2="1701.8" y2="1406.9" stroke-width="1.5"/>
<line x1="1898.1" y1="1398.7" x2="1898.1" y2="1406.9" stroke-width="1.5"/>
<line x1="2094.4" y1="1398.7" x2="2094.4" y2="1406.9" stroke-width="1.5"/>
<line x1="2290.8" y1="1398.7" x2="2290.8" y2="1406.9" stroke-width="1.5"/>
<line x1="2487.1" y1="1398.7" x2="2487.1" y2="1406.9" stroke-width="1.5"/>
<line x1="2683.5" y1="1398.7" x2="2683.5" y2="1406.9" stroke-width="1.5"/>
<line x1="2879.8" y1="1398.7" x2="2879.8" y2="1406.9" stroke-width="1.5"/>
<line x1="3076.1" y1="1398.7" x2="3076.1" y2="1406.9" stroke-width="1.5"/>
<line x1="3272.5" y1="1398.7" x2="3272.5" y2="1406.9" stroke-width="1.5"/>
<line x1="3468.8" y1="1398.7" x2="3468.8" y2="1406.9" stroke-width="1.5"/>
<line x1="3665.1" y1="1398.7" x2="3665.1" y2="1406.9" stroke-width="1.5"/>
<line x1="3861.5" y1="1398.7" x2="3861.5" y2="1406.9" stroke-width="1.5"/>
<line x1="4057.8" y1="1398.7" x2="4057.8" y2="1406.9" stroke-width="1.5"/>
<line x1="4254.2" y1="1398.7" x2="4254.2" y2="1406.9" stroke-width="1.5"/>
<line x1="4450.5" y1="1398.7" x2="4450.5" y2="1406.9" stroke-width="1.5"/>
</g>
<g font-size="25.2" fill="#6f7076" letter-spacing="0.25">
<text x="4467" y="125.5">3,000,000,000</text>
<text x="4467" y="551.8">2,000,000,000</text>
<text x="4467" y="979.3" letter-spacing="-0.15">1,000,000,000</text>
<text x="4467" y="1407.4">0</text>
<text x="4467" y="1833.8" letter-spacing="-0.15"><tspan textLength="14" lengthAdjust="spacingAndGlyphs">-</tspan>1,000,000,000</text>
<text x="4467" y="2262.1"><tspan textLength="14" lengthAdjust="spacingAndGlyphs">-</tspan>2,000,000,000</text>
</g>
<g font-size="25" fill="#6f7076" text-anchor="middle">
<text x="343.3" y="2288.9">2025<tspan textLength="15.4" lengthAdjust="spacingAndGlyphs">-</tspan>08<tspan textLength="15.4" lengthAdjust="spacingAndGlyphs">-</tspan>27</text>
<text x="539.6" y="2288.9">2025<tspan textLength="15.4" lengthAdjust="spacingAndGlyphs">-</tspan>09<tspan textLength="15.4" lengthAdjust="spacingAndGlyphs">-</tspan>02</text>
<text x="735.9" y="2288.9">2025<tspan textLength="15.4" lengthAdjust="spacingAndGlyphs">-</tspan>09<tspan textLength="15.4" lengthAdjust="spacingAndGlyphs">-</tspan>08</text>
<text x="932.5" y="2288.9" letter-spacing="-0.4">2025<tspan textLength="15.4" lengthAdjust="spacingAndGlyphs">-</tspan>09<tspan textLength="15.4" lengthAdjust="spacingAndGlyphs">-</tspan>14</text>
<text x="1128.6" y="2288.9">2025<tspan textLength="15.4" lengthAdjust="spacingAndGlyphs">-</tspan>09<tspan textLength="15.4" lengthAdjust="spacingAndGlyphs">-</tspan>20</text>
<text x="1324.9" y="2288.9">2025<tspan textLength="15.4" lengthAdjust="spacingAndGlyphs">-</tspan>09<tspan textLength="15.4" lengthAdjust="spacingAndGlyphs">-</tspan>26</text>
<text x="1521.5" y="2288.9" letter-spacing="-0.4">2025<tspan textLength="15.4" lengthAdjust="spacingAndGlyphs">-</tspan>10<tspan textLength="15.4" lengthAdjust="spacingAndGlyphs">-</tspan>02</text>
<text x="1717.8" y="2288.9" letter-spacing="-0.4">2025<tspan textLength="15.4" lengthAdjust="spacingAndGlyphs">-</tspan>10<tspan textLength="15.4" lengthAdjust="spacingAndGlyphs">-</tspan>08</text>
<text x="1914.4" y="2288.9" letter-spacing="-0.8">2025<tspan textLength="15.4" lengthAdjust="spacingAndGlyphs">-</tspan>10<tspan textLength="15.4" lengthAdjust="spacingAndGlyphs">-</tspan>14</text>
<text x="2110.5" y="2288.9" letter-spacing="-0.4">2025<tspan textLength="15.4" lengthAdjust="spacingAndGlyphs">-</tspan>10<tspan textLength="15.4" lengthAdjust="spacingAndGlyphs">-</tspan>20</text>
<text x="2306.8" y="2288.9" letter-spacing="-0.4">2025<tspan textLength="15.4" lengthAdjust="spacingAndGlyphs">-</tspan>10<tspan textLength="15.4" lengthAdjust="spacingAndGlyphs">-</tspan>26</text>
<text x="2503.6" y="2288.9" letter-spacing="-1.2">2025<tspan textLength="15.4" lengthAdjust="spacingAndGlyphs">-</tspan>11<tspan textLength="15.4" lengthAdjust="spacingAndGlyphs">-</tspan>01</text>
<text x="2699.7" y="2288.9" letter-spacing="-0.8">2025<tspan textLength="15.4" lengthAdjust="spacingAndGlyphs">-</tspan>11<tspan textLength="15.4" lengthAdjust="spacingAndGlyphs">-</tspan>07</text>
<text x="2896.3" y="2288.9" letter-spacing="-1.2">2025<tspan textLength="15.4" lengthAdjust="spacingAndGlyphs">-</tspan>11<tspan textLength="15.4" lengthAdjust="spacingAndGlyphs">-</tspan>13</text>
<text x="3092.6" y="2288.9" letter-spacing="-1.2">2025<tspan textLength="15.4" lengthAdjust="spacingAndGlyphs">-</tspan>11<tspan textLength="15.4" lengthAdjust="spacingAndGlyphs">-</tspan>19</text>
<text x="3288.7" y="2288.9" letter-spacing="-0.8">2025<tspan textLength="15.4" lengthAdjust="spacingAndGlyphs">-</tspan>11<tspan textLength="15.4" lengthAdjust="spacingAndGlyphs">-</tspan>25</text>
<text x="3485.1" y="2288.9" letter-spacing="-0.8">2025<tspan textLength="15.4" lengthAdjust="spacingAndGlyphs">-</tspan>12<tspan textLength="15.4" lengthAdjust="spacingAndGlyphs">-</tspan>01</text>
<text x="3681.2" y="2288.9" letter-spacing="-0.4">2025<tspan textLength="15.4" lengthAdjust="spacingAndGlyphs">-</tspan>12<tspan textLength="15.4" lengthAdjust="spacingAndGlyphs">-</tspan>07</text>
<text x="3877.7" y="2288.9" letter-spacing="-0.8">2025<tspan textLength="15.4" lengthAdjust="spacingAndGlyphs">-</tspan>12<tspan textLength="15.4" lengthAdjust="spacingAndGlyphs">-</tspan>13</text>
<text x="4074.1" y="2288.9" letter-spacing="-0.8">2025<tspan textLength="15.4" lengthAdjust="spacingAndGlyphs">-</tspan>12<tspan textLength="15.4" lengthAdjust="spacingAndGlyphs">-</tspan>19</text>
<text x="4270.2" y="2288.9" letter-spacing="-0.4">2025<tspan textLength="15.4" lengthAdjust="spacingAndGlyphs">-</tspan>12<tspan textLength="15.4" lengthAdjust="spacingAndGlyphs">-</tspan>25</text>
</g>
<polyline points="212.4,491.3 245.1,520.5 277.8,570.6 310.5,545.8 343.3,553.7 376,534.4 408.7,597.3 441.4,590.9 474.1,599.3 506.9,584.9 539.6,555.2 572.3,547.3 605,562.2 637.8,563.1 670.5,570.1 703.2,555.7 735.9,541.8 768.7,550.3 801.4,512.6 834.1,489.3 866.8,480.9 899.5,482.4 932.3,492.3 965,491.3 997.7,469 1030.4,475 1063.2,465.6 1095.9,486.9 1128.6,485.9 1161.3,493.3 1194.1,531.4 1226.8,542.3 1259.5,522.5 1292.2,587.9 1324.9,578 1357.7,578.5 1390.4,538.9 1423.1,507.2 1455.8,511.1 1488.6,441.8 1521.3,412.1 1554,386.3 1586.7,384.3 1619.5,367.5 1652.2,349.2 1684.9,399.7 1717.6,370 1750.3,394.7 1783.1,527.5 1815.8,561.7 1848.5,495.8 1881.2,492.8 1914,526 1946.7,561.2 1979.4,600.8 2012.1,627.5 2044.9,615.7 2077.6,592.9 2110.3,564.6 2143,598.3 2175.7,610.2 2208.5,571.6 2241.2,557.2 2273.9,548.3 2306.6,503.7 2339.4,510.1 2372.1,528.5 2404.8,572.1 2437.5,599.3 2470.3,579 2503,571.1 2535.7,565.1 2568.4,625.1 2601.1,702.3 2633.9,665.7 2666.6,705.3 2699.3,675.1 2732,690.9 2764.8,654 2797.5,634.6 2830.2,679.2 2862.9,700.5 2895.7,731.2 2928.4,807.5 2961.1,792.7 2993.8,812 3026.5,844.7 3059.3,832.8 3092,855.6 3124.7,930.9 3157.4,953.1 3190.2,959.1 3222.9,925.9 3255.6,904.6 3288.3,919 3321.1,870.9 3353.8,858 3386.5,865 3419.2,866.5 3451.9,872.9 3484.7,934.8 3517.4,858.5 3550.1,825.8 3582.8,846.6 3615.6,888.3 3648.3,890.2 3681,871.9 3713.7,869.4 3746.5,837.7 3779.2,847.1 3811.9,840.2 3844.6,873.9 3877.3,873.9 3910.1,906.6 3942.8,932.8 3975.5,911.5 4008.2,935.8 4041,947.9 4073.7,907.5 4106.4,903.8 4139.1,899.6 4171.9,901 4204.6,918.2 4237.3,914.8 4270,921.3 4302.7,919.6 4335.5,911.7 4368.2,911 4400.9,922 4433.6,902.7" fill="none" stroke="#000" stroke-width="4" stroke-linejoin="bevel"/>
<g fill="#fff" stroke="#000" stroke-width="4">
<circle cx="212.4" cy="491.3" r="4"/>
<circle cx="245.1" cy="520.5" r="4"/>
<circle cx="277.8" cy="570.6" r="4"/>
<circle cx="310.5" cy="545.8" r="4"/>
<circle cx="343.3" cy="553.7" r="4"/>
<circle cx="376" cy="534.4" r="4"/>
<circle cx="408.7" cy="597.3" r="4"/>
<circle cx="441.4" cy="590.9" r="4"/>
<circle cx="474.1" cy="599.3" r="4"/>
<circle cx="506.9" cy="584.9" r="4"/>
<circle cx="539.6" cy="555.2" r="4"/>
<circle cx="572.3" cy="547.3" r="4"/>
<circle cx="605" cy="562.2" r="4"/>
<circle cx="637.8" cy="563.1" r="4"/>
<circle cx="670.5" cy="570.1" r="4"/>
<circle cx="703.2" cy="555.7" r="4"/>
<circle cx="735.9" cy="541.8" r="4"/>
<circle cx="768.7" cy="550.3" r="4"/>
<circle cx="801.4" cy="512.6" r="4"/>
<circle cx="834.1" cy="489.3" r="4"/>
<circle cx="866.8" cy="480.9" r="4"/>
<circle cx="899.5" cy="482.4" r="4"/>
<circle cx="932.3" cy="492.3" r="4"/>
<circle cx="965" cy="491.3" r="4"/>
<circle cx="997.7" cy="469" r="4"/>
<circle cx="1030.4" cy="475" r="4"/>
<circle cx="1063.2" cy="465.6" r="4"/>
<circle cx="1095.9" cy="486.9" r="4"/>
<circle cx="1128.6" cy="485.9" r="4"/>
<circle cx="1161.3" cy="493.3" r="4"/>
<circle cx="1194.1" cy="531.4" r="4"/>
<circle cx="1226.8" cy="542.3" r="4"/>
<circle cx="1259.5" cy="522.5" r="4"/>
<circle cx="1292.2" cy="587.9" r="4"/>
<circle cx="1324.9" cy="578" r="4"/>
<circle cx="1357.7" cy="578.5" r="4"/>
<circle cx="1390.4" cy="538.9" r="4"/>
<circle cx="1423.1" cy="507.2" r="4"/>
<circle cx="1455.8" cy="511.1" r="4"/>
<circle cx="1488.6" cy="441.8" r="4"/>
<circle cx="1521.3" cy="412.1" r="4"/>
<circle cx="1554" cy="386.3" r="4"/>
<circle cx="1586.7" cy="384.3" r="4"/>
<circle cx="1619.5" cy="367.5" r="4"/>
<circle cx="1652.2" cy="349.2" r="4"/>
<circle cx="1684.9" cy="399.7" r="4"/>
<circle cx="1717.6" cy="370" r="4"/>
<circle cx="1750.3" cy="394.7" r="4"/>
<circle cx="1783.1" cy="527.5" r="4"/>
<circle cx="1815.8" cy="561.7" r="4"/>
<circle cx="1848.5" cy="495.8" r="4"/>
<circle cx="1881.2" cy="492.8" r="4"/>
<circle cx="1914" cy="526" r="4"/>
<circle cx="1946.7" cy="561.2" r="4"/>
<circle cx="1979.4" cy="600.8" r="4"/>
<circle cx="2012.1" cy="627.5" r="4"/>
<circle cx="2044.9" cy="615.7" r="4"/>
<circle cx="2077.6" cy="592.9" r="4"/>
<circle cx="2110.3" cy="564.6" r="4"/>
<circle cx="2143" cy="598.3" r="4"/>
<circle cx="2175.7" cy="610.2" r="4"/>
<circle cx="2208.5" cy="571.6" r="4"/>
<circle cx="2241.2" cy="557.2" r="4"/>
<circle cx="2273.9" cy="548.3" r="4"/>
<circle cx="2306.6" cy="503.7" r="4"/>
<circle cx="2339.4" cy="510.1" r="4"/>
<circle cx="2372.1" cy="528.5" r="4"/>
<circle cx="2404.8" cy="572.1" r="4"/>
<circle cx="2437.5" cy="599.3" r="4"/>
<circle cx="2470.3" cy="579" r="4"/>
<circle cx="2503" cy="571.1" r="4"/>
<circle cx="2535.7" cy="565.1" r="4"/>
<circle cx="2568.4" cy="625.1" r="4"/>
<circle cx="2601.1" cy="702.3" r="4"/>
<circle cx="2633.9" cy="665.7" r="4"/>
<circle cx="2666.6" cy="705.3" r="4"/>
<circle cx="2699.3" cy="675.1" r="4"/>
<circle cx="2732" cy="690.9" r="4"/>
<circle cx="2764.8" cy="654" r="4"/>
<circle cx="2797.5" cy="634.6" r="4"/>
<circle cx="2830.2" cy="679.2" r="4"/>
<circle cx="2862.9" cy="700.5" r="4"/>
<circle cx="2895.7" cy="731.2" r="4"/>
<circle cx="2928.4" cy="807.5" r="4"/>
<circle cx="2961.1" cy="792.7" r="4"/>
<circle cx="2993.8" cy="812" r="4"/>
<circle cx="3026.5" cy="844.7" r="4"/>
<circle cx="3059.3" cy="832.8" r="4"/>
<circle cx="3092" cy="855.6" r="4"/>
<circle cx="3124.7" cy="930.9" r="4"/>
<circle cx="3157.4" cy="953.1" r="4"/>
<circle cx="3190.2" cy="959.1" r="4"/>
<circle cx="3222.9" cy="925.9" r="4"/>
<circle cx="3255.6" cy="904.6" r="4"/>
<circle cx="3288.3" cy="919" r="4"/>
<circle cx="3321.1" cy="870.9" r="4"/>
<circle cx="3353.8" cy="858" r="4"/>
<circle cx="3386.5" cy="865" r="4"/>
<circle cx="3419.2" cy="866.5" r="4"/>
<circle cx="3451.9" cy="872.9" r="4"/>
<circle cx="3484.7" cy="934.8" r="4"/>
<circle cx="3517.4" cy="858.5" r="4"/>
<circle cx="3550.1" cy="825.8" r="4"/>
<circle cx="3582.8" cy="846.6" r="4"/>
<circle cx="3615.6" cy="888.3" r="4"/>
<circle cx="3648.3" cy="890.2" r="4"/>
<circle cx="3681" cy="871.9" r="4"/>
<circle cx="3713.7" cy="869.4" r="4"/>
<circle cx="3746.5" cy="837.7" r="4"/>
<circle cx="3779.2" cy="847.1" r="4"/>
<circle cx="3811.9" cy="840.2" r="4"/>
<circle cx="3844.6" cy="873.9" r="4"/>
<circle cx="3877.3" cy="873.9" r="4"/>
<circle cx="3910.1" cy="906.6" r="4"/>
<circle cx="3942.8" cy="932.8" r="4"/>
<circle cx="3975.5" cy="911.5" r="4"/>
<circle cx="4008.2" cy="935.8" r="4"/>
<circle cx="4041" cy="947.9" r="4"/>
<circle cx="4073.7" cy="907.5" r="4"/>
<circle cx="4106.4" cy="903.8" r="4"/>
<circle cx="4139.1" cy="899.6" r="4"/>
<circle cx="4171.9" cy="901" r="4"/>
<circle cx="4204.6" cy="918.2" r="4"/>
<circle cx="4237.3" cy="914.8" r="4"/>
<circle cx="4270" cy="921.3" r="4"/>
<circle cx="4302.7" cy="919.6" r="4"/>
<circle cx="4335.5" cy="911.7" r="4"/>
<circle cx="4368.2" cy="911" r="4"/>
<circle cx="4400.9" cy="922" r="4"/>
<circle cx="4433.6" cy="902.7" r="4"/>
</g>
<g opacity="0.095"><text x="2324.5" y="1232.3" font-size="140" text-anchor="middle" fill="#000" stroke="#000" stroke-width="4" stroke-linejoin="round" letter-spacing="2.5" word-spacing="9">EMC LABS</text></g>
<text x="2324.5" y="56.6" font-size="35" letter-spacing="1.58" text-anchor="middle" fill="#464646" stroke="#464646" stroke-width="1.6" stroke-linejoin="round">Capital Flow Daily</text>
<g id="legend" font-size="24.6">
<rect x="8.2" y="26.2" width="49.8" height="27.4" rx="6" ry="6" fill="#5470c6"/>
<text x="68" y="48.3" fill="#333333">Stablecoin</text>
<rect x="8.2" y="74.3" width="49.8" height="27.4" rx="6" ry="6" fill="#91cc75"/>
<text x="68" y="96.4" fill="#333333">BTC ETF</text>
<rect x="8.2" y="122.3" width="49.8" height="27.4" rx="6" ry="6" fill="#9a60b4"/>
<text x="68" y="144.4" fill="#333333">ETH ETF</text>
<rect x="8.2" y="170.3" width="49.8" height="27.4" rx="6" ry="6" fill="#660033"/>
<text x="68" y="192.4" fill="#333333">SOL ETF</text>
<rect x="8.2" y="218.3" width="49.8" height="27.4" rx="6" ry="6" fill="#ff3333"/>
<text x="68" y="240.4" fill="#333333">BTC DATs</text>
<rect x="8.2" y="266.3" width="49.8" height="27.4" rx="6" ry="6" fill="#ff9933"/>
<text x="68" y="288.4" fill="#333333">ETH DATs</text>
<rect x="8.2" y="314.3" width="49.8" height="27.4" rx="6" ry="6" fill="#ffff33"/>
<text x="68" y="336.4" fill="#333333">SOL DATs</text>
<rect x="8.2" y="362.4" width="49.8" height="27.4" rx="6" ry="6" fill="#cccccc"/>
<text x="68" y="384.5" fill="#cccccc">Total</text>
<line x1="8.2" y1="423" x2="58" y2="423" stroke="#000000" stroke-width="4"/>
<circle cx="33.1" cy="423" r="11" fill="#fff" stroke="#000000" stroke-width="4"/>
<text x="68" y="431.4" fill="#333333">BTC Price</text>
<line x1="8.2" y1="469.5" x2="58" y2="469.5" stroke="#cccccc" stroke-width="4"/>
<circle cx="33.1" cy="469.5" r="11" fill="#fff" stroke="#cccccc" stroke-width="4"/>
<text x="68" y="477.9" fill="#cccccc">ETH Price</text>
</g>
<g id="datazoom">
<polygon points="202.5,2335.5 205.6,2335.4 208.7,2335.7 211.8,2335.3 214.9,2335.6 218,2335.5 221.1,2335.3 224.2,2329.6 227.3,2335.3 230.4,2335.6 233.5,2335.3 236.6,2335.4 239.7,2335.6 242.8,2335.8 245.9,2335.4 249,2335.4 252.1,2335.7 255.1,2335.9 258.2,2335.6 261.3,2335.5 264.4,2335.9 267.5,2335.3 270.6,2335.8 273.7,2335.5 276.8,2335.4 279.9,2335.4 283,2335.5 286.1,2335.8 289.2,2335.4 292.3,2335.6 295.4,2335.7 298.5,2335.5 301.6,2335.6 304.7,2335.3 307.8,2335.3 310.9,2335.4 314,2335.7 317.1,2335.6 320.2,2335.5 323.3,2335.7 326.4,2335.6 329.5,2335.5 332.6,2335.8 335.7,2335.7 338.8,2335.4 341.9,2335.6 345,2335.6 348.1,2335.8 351.2,2335.7 354.3,2335.5 357.4,2335.9 360.4,2335.4 363.5,2335.6 366.6,2335.8 369.7,2335.4 372.8,2335.6 375.9,2335.3 379,2335.7 382.1,2335.8 385.2,2335.6 388.3,2335.8 391.4,2335.5 394.5,2335.7 397.6,2335.7 400.7,2335.6 403.8,2335.6 406.9,2335.8 410,2335.9 413.1,2335.6 416.2,2335.7 419.3,2335.3 422.4,2335.7 425.5,2335.7 428.6,2335.9 431.7,2335.8 434.8,2333.5 437.9,2335.5 441,2335.7 444.1,2335.3 447.2,2335.6 450.3,2335.4 453.4,2335.4 456.5,2335.3 459.6,2335.8 462.6,2335.4 465.7,2335.4 468.8,2335.5 471.9,2335.8 475,2335.3 478.1,2335.6 481.2,2335.6 484.3,2335.8 487.4,2335.8 490.5,2335.8 493.6,2335.5 496.7,2335.5 499.8,2335.5 502.9,2335.8 506,2335.9 509.1,2335.4 512.2,2335.4 515.3,2335.4 518.4,2335.4 521.5,2335.6 524.6,2335.7 527.7,2335.5 530.8,2335.3 533.9,2335.6 537,2335.5 540.1,2335.6 543.2,2335.9 546.3,2335.7 549.4,2335.6 552.5,2335.7 555.6,2335.7 558.7,2335.3 561.8,2335.8 564.8,2335.8 567.9,2335.8 571,2335.8 574.1,2335.5 577.2,2335.5 580.3,2335.4 583.4,2335.7 586.5,2335.3 589.6,2335.3 592.7,2335.4 595.8,2335.4 598.9,2335.5 602,2335.3 605.1,2335.3 608.2,2335.4 611.3,2335.4 614.4,2335.5 617.5,2335.3 620.6,2335.8 623.7,2335.7 626.8,2335.4 629.9,2335.5 633,2335.5 636.1,2335.5 639.2,2335.4 642.3,2335.8 645.4,2335.9 648.5,2335.6 651.6,2335.6 654.7,2335.4 657.8,2335.4 660.9,2335.5 664,2335.5 667,2335.8 670.1,2335.4 673.2,2335.3 676.3,2335.9 679.4,2335.6 682.5,2335.4 685.6,2335.6 688.7,2335.3 691.8,2335.6 694.9,2335.9 698,2335.8 701.1,2335.7 704.2,2335.5 707.3,2335.5 710.4,2335.4 713.5,2335.8 716.6,2335.6 719.7,2335.8 722.8,2335.5 725.9,2335.4 729,2335.8 732.1,2335.9 735.2,2326.8 738.3,2335.8 741.4,2335.8 744.5,2335.7 747.6,2335.4 750.7,2335.6 753.8,2335.5 756.9,2335.3 760,2335.3 763.1,2335.5 766.2,2335.5 769.3,2332.7 772.3,2335.9 775.4,2335.6 778.5,2335.9 781.6,2333.9 784.7,2335.9 787.8,2335.5 790.9,2335.4 794,2335.4 797.1,2335.4 800.2,2335.4 803.3,2335.7 806.4,2335.8 809.5,2335.8 812.6,2335.6 815.7,2335.7 818.8,2335.8 821.9,2335.4 825,2335.7 828.1,2335.8 831.2,2335.8 834.3,2335.8 837.4,2335.6 840.5,2335.4 843.6,2335.8 846.7,2335.5 849.8,2335.8 852.9,2335.9 856,2335.5 859.1,2335.5 862.2,2335.9 865.3,2335.7 868.4,2335.4 871.5,2335.4 874.5,2335.4 877.6,2335.8 880.7,2335.8 883.8,2335.4 886.9,2335.8 890,2335.9 893.1,2335.7 896.2,2335.5 899.3,2335.6 902.4,2335.4 905.5,2335.3 908.6,2335.9 911.7,2335.7 914.8,2335.6 917.9,2335.9 921,2335.6 924.1,2335.8 927.2,2335.8 930.3,2335.4 933.4,2335.5 936.5,2335.5 939.6,2335.4 942.7,2335.7 945.8,2335.5 948.9,2335.6 952,2335.4 955.1,2335.8 958.2,2335.5 961.3,2335.6 964.4,2335.7 967.5,2335.8 970.6,2335.6 973.7,2335.9 976.8,2335.6 979.8,2335.6 982.9,2335.6 986,2335.3 989.1,2335.6 992.2,2335.4 995.3,2335.3 998.4,2335.8 1001.5,2335.4 1004.6,2335.6 1007.7,2335.7 1010.8,2335.6 1013.9,2335.5 1017,2335.6 1020.1,2335.6 1023.2,2335.8 1026.3,2335.4 1029.4,2335.6 1032.5,2335.4 1035.6,2335.5 1038.7,2335.8 1041.8,2335.6 1044.9,2335.6 1048,2335.8 1051.1,2335.8 1054.2,2335.6 1057.3,2335.7 1060.4,2335.6 1063.5,2335.6 1066.6,2335.7 1069.7,2335.6 1072.8,2335.6 1075.9,2335.6 1079,2335.9 1082,2335.7 1085.1,2335.8 1088.2,2335.9 1091.3,2335.5 1094.4,2335.6 1097.5,2335.9 1100.6,2335.8 1103.7,2335.4 1106.8,2335.4 1109.9,2335.6 1113,2335.3 1116.1,2335.4 1119.2,2335.3 1122.3,2335.7 1125.4,2335.8 1128.5,2335.8 1131.6,2335.4 1134.7,2335.7 1137.8,2335.7 1140.9,2335.4 1144,2335.8 1147.1,2335.9 1150.2,2335.4 1153.3,2335.9 1156.4,2335.5 1159.5,2335.6 1162.6,2335.9 1165.7,2335.8 1168.8,2335.4 1171.9,2335.6 1175,2335.6 1178.1,2335.5 1181.2,2335.4 1184.2,2335.5 1187.3,2335.7 1190.4,2335.3 1193.5,2335.6 1196.6,2335.6 1199.7,2335.3 1202.8,2335.1 1205.9,2336 1209,2335.6 1212.1,2334.2 1215.2,2337.2 1218.3,2336.5 1221.4,2337.1 1224.5,2334.3 1227.6,2334.8 1230.7,2334.1 1233.8,2336.5 1236.9,2334.9 1240,2334.4 1243.1,2335.4 1246.2,2336.9 1249.3,2336.6 1252.4,2334.8 1255.5,2334.5 1258.6,2336.9 1261.7,2335.8 1264.8,2336.2 1267.9,2334.3 1271,2334.2 1274.1,2336.2 1277.2,2335.4 1280.3,2334.2 1283.4,2337 1286.5,2336 1289.5,2336.6 1292.6,2334.3 1295.7,2336.7 1298.8,2334.2 1301.9,2336.8 1305,2335.5 1308.1,2335.1 1311.2,2335.8 1314.3,2337 1317.4,2334.9 1320.5,2334.4 1323.6,2335.7 1326.7,2334.8 1329.8,2334.4 1332.9,2334.5 1336,2334.2 1339.1,2334.6 1342.2,2335 1345.3,2335 1348.4,2336.4 1351.5,2334.9 1354.6,2335.6 1357.7,2334.6 1360.8,2335.1 1363.9,2334.1 1367,2334.8 1370.1,2334 1373.2,2336.3 1376.3,2335.8 1379.4,2334.6 1382.5,2335.5 1385.6,2337 1388.7,2334.3 1391.7,2336.6 1394.8,2335.4 1397.9,2335.6 1401,2336.7 1404.1,2335.3 1407.2,2335.6 1410.3,2336.2 1413.4,2337.1 1416.5,2335.1 1419.6,2336.7 1422.7,2336.3 1425.8,2336 1428.9,2335.3 1432,2335.1 1435.1,2334.2 1438.2,2334.4 1441.3,2334.2 1444.4,2336.4 1447.5,2334.8 1450.6,2334.5 1453.7,2334.3 1456.8,2336.7 1459.9,2336.8 1463,2336.1 1466.1,2334.9 1469.2,2334.8 1472.3,2334.9 1475.4,2335.5 1478.5,2334.5 1481.6,2335.4 1484.7,2334.8 1487.8,2337.1 1490.9,2337.1 1493.9,2335.8 1497,2334.8 1500.1,2337.1 1503.2,2335 1506.3,2335.1 1509.4,2334 1512.5,2335.2 1515.6,2335.5 1518.7,2335.6 1521.8,2334.6 1524.9,2335.6 1528,2334 1531.1,2334.8 1534.2,2334.3 1537.3,2335.3 1540.4,2334.1 1543.5,2334.1 1546.6,2335 1549.7,2334.7 1552.8,2335.9 1555.9,2335.7 1559,2336.4 1562.1,2336.1 1565.2,2336.3 1568.3,2336.8 1571.4,2335.2 1574.5,2335 1577.6,2337.2 1580.7,2334.5 1583.8,2336.3 1586.9,2336.1 1590,2334.1 1593.1,2336.7 1596.2,2336.9 1599.2,2336 1602.3,2336.3 1605.4,2336.6 1608.5,2334.4 1611.6,2335.7 1614.7,2335.6 1617.8,2336.7 1620.9,2336.6 1624,2336.6 1627.1,2335.9 1630.2,2336.9 1633.3,2336.2 1636.4,2336.2 1639.5,2334.7 1642.6,2334.1 1645.7,2334.4 1648.8,2335.2 1651.9,2334.3 1655,2336.7 1658.1,2335.8 1661.2,2336 1664.3,2331 1667.4,2336.2 1670.5,2335.6 1673.6,2334 1676.7,2336.6 1679.8,2336.4 1682.9,2335.6 1686,2335.7 1689.1,2336.1 1692.2,2334.2 1695.3,2336.4 1698.4,2334.8 1701.4,2334.2 1704.5,2334.8 1707.6,2336.3 1710.7,2334.7 1713.8,2336.4 1716.9,2337.1 1720,2335.6 1723.1,2335.2 1726.2,2335.5 1729.3,2336.2 1732.4,2336.5 1735.5,2336 1738.6,2336.1 1741.7,2334.2 1744.8,2334.5 1747.9,2334.8 1751,2336.4 1754.1,2335 1757.2,2335.8 1760.3,2334 1763.4,2334.2 1766.5,2334.9 1769.6,2336.2 1772.7,2336.2 1775.8,2336.2 1778.9,2334.9 1782,2335.7 1785.1,2335.5 1788.2,2335.5 1791.3,2334.4 1794.4,2331.9 1797.5,2334.6 1800.6,2337.1 1803.6,2337 1806.7,2334.1 1809.8,2335.5 1812.9,2336.6 1816,2337.1 1819.1,2329.4 1822.2,2334.9 1825.3,2334.7 1828.4,2337 1831.5,2334.7 1834.6,2335.9 1837.7,2334.5 1840.8,2335.7 1843.9,2337 1847,2334.4 1850.1,2336.6 1853.2,2335.6 1856.3,2336.8 1859.4,2336.3 1862.5,2334.7 1865.6,2336.9 1868.7,2335.6 1871.8,2334.1 1874.9,2334 1878,2323.6 1881.1,2349.4 1884.2,2335 1887.3,2334.5 1890.4,2335.1 1893.5,2335 1896.6,2336.7 1899.7,2334 1902.8,2336.4 1905.8,2315.7 1908.9,2347.4 1912,2337 1915.1,2336.3 1918.2,2336.9 1921.3,2334.9 1924.4,2335.2 1927.5,2335.3 1930.6,2337.2 1933.7,2335.9 1936.8,2335.2 1939.9,2335.4 1943,2334.9 1946.1,2334.2 1949.2,2334.3 1952.3,2336.7 1955.4,2334.9 1958.5,2337 1961.6,2334.8 1964.7,2334.9 1967.8,2335.6 1970.9,2334.6 1974,2335.2 1977.1,2337.1 1980.2,2336.8 1983.3,2336.6 1986.4,2336 1989.5,2336.9 1992.6,2337 1995.7,2335.8 1998.8,2336.3 2001.9,2334.2 2005,2336.3 2008.1,2335.4 2011.1,2336.4 2014.2,2336.1 2017.3,2334.9 2020.4,2334.2 2023.5,2337 2026.6,2334.4 2029.7,2335.5 2032.8,2335.1 2035.9,2335 2039,2336.4 2042.1,2337.1 2045.2,2334.8 2048.3,2336.1 2051.4,2335 2054.5,2335.8 2057.6,2335.3 2060.7,2334.5 2063.8,2334.5 2066.9,2334.7 2070,2336.9 2073.1,2335.6 2076.2,2334.7 2079.3,2336.9 2082.4,2337.2 2085.5,2335.4 2088.6,2334.4 2091.7,2334.6 2094.8,2334.3 2097.9,2335.1 2101,2334.3 2104.1,2334.8 2107.2,2334.8 2110.3,2331.8 2113.3,2336.8 2116.4,2336.4 2119.5,2335.3 2122.6,2335.3 2125.7,2335.7 2128.8,2335.2 2131.9,2335.1 2135,2334.2 2138.1,2334.9 2141.2,2337.1 2144.3,2334.4 2147.4,2335.6 2150.5,2336 2153.6,2336.8 2156.7,2334.7 2159.8,2334.9 2162.9,2334.8 2166,2335.3 2169.1,2335.4 2172.2,2337.1 2175.3,2336.7 2178.4,2336.8 2181.5,2334.1 2184.6,2329.1 2187.7,2336.3 2190.8,2336.9 2193.9,2335.5 2197,2335.9 2200.1,2334 2203.2,2335.3 2206.3,2337 2209.4,2336.6 2212.5,2336.7 2215.6,2337.1 2218.6,2334.8 2221.7,2334.3 2224.8,2334.5 2227.9,2335.7 2231,2336.2 2234.1,2337 2237.2,2336.3 2240.3,2336.1 2243.4,2336.4 2246.5,2335.5 2249.6,2335.8 2252.7,2334.1 2255.8,2336.5 2258.9,2334.7 2262,2336.9 2265.1,2336.1 2268.2,2335 2271.3,2334.4 2274.4,2334.8 2277.5,2336 2280.6,2336.2 2283.7,2334.4 2286.8,2334.2 2289.9,2335.7 2293,2335.9 2296.1,2335.2 2299.2,2334.7 2302.3,2335.9 2305.4,2334 2308.5,2335 2311.6,2335.5 2314.7,2337.1 2317.8,2336.1 2320.8,2336.8 2323.9,2335.5 2327,2334.8 2330.1,2334.8 2333.2,2337.1 2336.3,2336.3 2339.4,2335 2342.5,2334.1 2345.6,2335.6 2348.7,2336.2 2351.8,2335.3 2354.9,2334.8 2358,2336.1 2361.1,2337 2364.2,2334.7 2367.3,2334.1 2370.4,2335.1 2373.5,2335.3 2376.6,2336.2 2379.7,2334.6 2382.8,2336.6 2385.9,2336.4 2389,2335.6 2392.1,2334.7 2395.2,2337.1 2398.3,2335 2401.4,2336.6 2404.5,2334.7 2407.6,2334.7 2410.7,2336.4 2413.8,2334.9 2416.9,2337 2420,2330.6 2423,2334.6 2426.1,2334.7 2429.2,2335.3 2432.3,2336.1 2435.4,2337 2438.5,2334.5 2441.6,2335.3 2444.7,2334.7 2447.8,2337.1 2450.9,2334.5 2454,2334.2 2457.1,2334.2 2460.2,2335.3 2463.3,2336.9 2466.4,2336.8 2469.5,2336.3 2472.6,2337.2 2475.7,2337 2478.8,2335.1 2481.9,2334.6 2485,2337 2488.1,2336.4 2491.2,2334.1 2494.3,2336.1 2497.4,2335.2 2500.5,2335.2 2503.6,2335.1 2506.7,2334.5 2509.8,2334 2512.9,2334.9 2516,2335.1 2519.1,2337.1 2522.2,2334.4 2525.3,2337.1 2528.3,2334.7 2531.4,2335.1 2534.5,2336.6 2537.6,2336.6 2540.7,2335.4 2543.8,2334.2 2546.9,2335.5 2550,2335.2 2553.1,2336.9 2556.2,2334.6 2559.3,2335.2 2562.4,2336.9 2565.5,2334.1 2568.6,2335.3 2571.7,2336.6 2574.8,2336.5 2577.9,2334.1 2581,2334.1 2584.1,2334.2 2587.2,2336.9 2590.3,2334.8 2593.4,2336.4 2596.5,2336.9 2599.6,2335.1 2602.7,2334.9 2605.8,2337.1 2608.9,2336 2612,2334.8 2615.1,2336.3 2618.2,2335 2621.3,2334.9 2624.4,2334 2627.5,2336.4 2630.5,2336.9 2633.6,2336 2636.7,2337 2639.8,2334.1 2642.9,2334.7 2646,2335.5 2649.1,2333.1 2652.2,2337.1 2655.3,2335.2 2658.4,2334.8 2661.5,2335.4 2664.6,2335.6 2667.7,2337 2670.8,2334.6 2673.9,2336.6 2677,2336.4 2680.1,2336.6 2683.2,2336.5 2686.3,2335.9 2689.4,2335 2692.5,2335 2695.6,2335.2 2698.7,2336.5 2701.8,2334.3 2704.9,2334.6 2708,2336.4 2711.1,2334.8 2714.2,2334.2 2717.3,2334.1 2720.4,2335.8 2723.5,2335 2726.6,2337.1 2729.7,2336.8 2732.7,2337.2 2735.8,2334.8 2738.9,2334.3 2742,2334.3 2745.1,2335.6 2748.2,2336.3 2751.3,2335.4 2754.4,2334.7 2757.5,2335.3 2760.6,2336 2763.7,2336.2 2766.8,2336.4 2769.9,2336.7 2773,2336.1 2776.1,2334.4 2779.2,2336.7 2782.3,2334.9 2785.4,2335.8 2788.5,2335.2 2791.6,2336.4 2794.7,2334.6 2797.8,2334.8 2800.9,2334.8 2804,2334.5 2807.1,2336.8 2810.2,2335.9 2813.3,2335 2816.4,2335.3 2819.5,2337.2 2822.6,2335.6 2825.7,2334.7 2828.8,2336.6 2831.9,2336.1 2835,2337.2 2838,2334.3 2841.1,2335.5 2844.2,2336.6 2847.3,2336.7 2850.4,2336.9 2853.5,2334.1 2856.6,2334.9 2859.7,2334.4 2862.8,2334.6 2865.9,2337.1 2869,2335.9 2872.1,2337 2875.2,2335.2 2878.3,2336.8 2881.4,2335.4 2884.5,2334.8 2887.6,2336.5 2890.7,2337 2893.8,2334.3 2896.9,2335.9 2900,2336 2903.1,2334.7 2906.2,2335.2 2909.3,2334.5 2912.4,2334.7 2915.5,2334.8 2918.6,2335.9 2921.7,2336.1 2924.8,2334.7 2927.9,2334 2931,2335 2934.1,2336.2 2937.2,2334.6 2940.2,2335 2943.3,2334.7 2946.4,2336.5 2949.5,2335.8 2952.6,2334.2 2955.7,2334.3 2958.8,2335.3 2961.9,2335.8 2965,2336 2968.1,2334.3 2971.2,2334.5 2974.3,2336.2 2977.4,2335.3 2980.5,2334.9 2983.6,2335 2986.7,2337.1 2989.8,2335 2992.9,2335.8 2996,2335.1 2999.1,2335.3 3002.2,2336.8 3005.3,2337.2 3008.4,2335.2 3011.5,2334.6 3014.6,2336.3 3017.7,2334.7 3020.8,2334 3023.9,2336.9 3027,2335.4 3030.1,2336.6 3033.2,2335.3 3036.3,2336.8 3039.4,2335.5 3042.4,2334.5 3045.5,2334 3048.6,2335.8 3051.7,2336.1 3054.8,2336.9 3057.9,2334.3 3061,2336 3064.1,2328.2 3067.2,2335.6 3070.3,2334.5 3073.4,2334.9 3076.5,2335.7 3079.6,2337 3082.7,2334.3 3085.8,2335.6 3088.9,2336.6 3092,2337.1 3095.1,2334.6 3098.2,2334.4 3101.3,2337 3104.4,2337.1 3107.5,2335.5 3110.6,2334.2 3113.7,2337 3116.8,2335.2 3119.9,2336.9 3123,2336 3126.1,2336.6 3129.2,2334.5 3132.3,2336.5 3135.4,2334.7 3138.5,2335.3 3141.6,2336.7 3144.7,2336.7 3147.7,2334.6 3150.8,2334.7 3153.9,2335.3 3157,2335.7 3160.1,2335.2 3163.2,2334.4 3166.3,2334.8 3169.4,2336.3 3172.5,2336.9 3175.6,2334.1 3178.7,2335.8 3181.8,2336.4 3184.9,2334.1 3188,2336.7 3191.1,2334.4 3194.2,2335.9 3197.3,2335.8 3200.4,2336 3203.5,2335 3206.6,2335.3 3209.7,2335.9 3212.8,2335.4 3215.9,2336.1 3219,2335.4 3222.1,2335.4 3225.2,2334.1 3228.3,2336 3231.4,2335.6 3234.5,2334.8 3237.6,2336.4 3240.7,2336.5 3243.8,2335.5 3246.9,2334.6 3249.9,2335.5 3253,2334.3 3256.1,2334.4 3259.2,2335.4 3262.3,2334.3 3265.4,2335.4 3268.5,2335.6 3271.6,2334.1 3274.7,2336 3277.8,2334.3 3280.9,2336.3 3284,2336.5 3287.1,2335.6 3290.2,2334.2 3293.3,2335.6 3296.4,2335.2 3299.5,2337 3302.6,2334.4 3305.7,2336.7 3308.8,2337.2 3311.9,2336.3 3315,2336.6 3318.1,2334.6 3321.2,2337.1 3324.3,2335.6 3327.4,2337.1 3330.5,2336.9 3333.6,2334.5 3336.7,2336.5 3339.8,2337 3342.9,2334.2 3346,2335.1 3349.1,2336.4 3352.1,2334.5 3355.2,2332.9 3358.3,2334.9 3361.4,2336.6 3364.5,2334.5 3367.6,2335.6 3370.7,2336.9 3373.8,2334.7 3376.9,2334.8 3380,2335.6 3383.1,2335 3386.2,2334.1 3389.3,2334.6 3392.4,2334.5 3395.5,2337 3398.6,2336.2 3401.7,2336.9 3404.8,2334.5 3407.9,2336.5 3411,2334.4 3414.1,2335.7 3417.2,2336 3420.3,2335.2 3423.4,2336.8 3426.5,2335.8 3429.6,2335.9 3432.7,2336.8 3435.8,2334.3 3438.9,2337.2 3442,2336 3445.1,2335.3 3448.2,2336.6 3451.3,2334.8 3454.3,2337.2 3457.4,2335.8 3460.5,2335.2 3463.6,2336.4 3466.7,2335.4 3469.8,2334.6 3472.9,2336.4 3476,2334.2 3479.1,2336.6 3482.2,2334.8 3485.3,2336 3488.4,2337.1 3491.5,2335.9 3494.6,2336.1 3497.7,2335 3500.8,2334 3503.9,2334.1 3507,2334.5 3510.1,2336 3513.2,2335.4 3516.3,2335.6 3519.4,2336.9 3522.5,2334.4 3525.6,2334.7 3528.7,2336.1 3531.8,2334.1 3534.9,2334 3538,2335.1 3541.1,2334.3 3544.2,2335.1 3547.3,2334.7 3550.4,2335.9 3553.5,2335.9 3556.6,2334.7 3559.6,2336 3562.7,2335.5 3565.8,2334.4 3568.9,2337 3572,2334.8 3575.1,2334.5 3578.2,2334.3 3581.3,2336 3584.4,2336.8 3587.5,2336.5 3590.6,2335.3 3593.7,2334.8 3596.8,2334 3599.9,2336.1 3603,2335.8 3606.1,2335.1 3609.2,2336.1 3612.3,2335.4 3615.4,2337 3618.5,2336.3 3621.6,2334.8 3624.7,2336.9 3627.8,2334.1 3630.9,2335.7 3634,2335.3 3637.1,2334.8 3640.2,2334.2 3643.3,2336.5 3646.4,2334 3649.5,2335.8 3652.6,2337 3655.7,2334.5 3658.8,2334.6 3661.8,2335.9 3664.9,2335.6 3668,2336.1 3671.1,2336.6 3674.2,2334.6 3677.3,2335 3680.4,2335 3683.5,2334.2 3686.6,2336.8 3689.7,2336.5 3692.8,2344.3 3695.9,2334 3699,2336.7 3702.1,2336.4 3705.2,2335.5 3708.3,2336.4 3711.4,2335.4 3714.5,2334.7 3717.6,2334.3 3720.7,2334.7 3723.8,2334.1 3726.9,2335.1 3730,2331.4 3733.1,2336.2 3736.2,2336.7 3739.3,2336.3 3742.4,2334.9 3745.5,2335.8 3748.6,2335.4 3751.7,2336.5 3754.8,2335.7 3757.9,2334.8 3761,2332.1 3764.1,2337.1 3767.1,2334.7 3770.2,2336.8 3773.3,2334 3776.4,2334.8 3779.5,2334.8 3782.6,2336.4 3785.7,2337 3788.8,2336.4 3791.9,2335 3795,2336.8 3798.1,2335.1 3801.2,2334.8 3804.3,2336.9 3807.4,2336 3810.5,2336.2 3813.6,2336.1 3816.7,2337.1 3819.8,2335.5 3822.9,2336.7 3826,2336.2 3829.1,2336.7 3832.2,2335.4 3835.3,2336.3 3838.4,2335.8 3841.5,2335 3844.6,2334.7 3847.7,2325 3850.8,2334.2 3853.9,2336.9 3857,2334.5 3860.1,2334.1 3863.2,2334.3 3866.3,2337 3869.3,2335.1 3872.4,2334.5 3875.5,2334.1 3878.6,2334.1 3881.7,2336.2 3884.8,2336 3887.9,2336.2 3891,2336.4 3894.1,2334.2 3897.2,2335.9 3900.3,2335.2 3903.4,2336.6 3906.5,2336.6 3909.6,2336.9 3912.7,2334.2 3915.8,2336.8 3918.9,2336.9 3922,2337 3925.1,2334.3 3928.2,2334.7 3931.3,2334.4 3934.4,2334.1 3937.5,2336.7 3940.6,2336.6 3943.7,2336 3946.8,2336.6 3949.9,2336 3953,2334.9 3956.1,2334.3 3959.2,2334.3 3962.3,2336.4 3965.4,2334.7 3968.5,2335 3971.5,2335.4 3974.6,2334.1 3977.7,2334.8 3980.8,2334.9 3983.9,2336.3 3987,2335.2 3990.1,2335 3993.2,2337.1 3996.3,2335.6 3999.4,2336.7 4002.5,2336 4005.6,2334.1 4008.7,2335.3 4011.8,2335.4 4014.9,2336.5 4018,2335.1 4021.1,2336.3 4024.2,2335.7 4027.3,2334.7 4030.4,2336.8 4033.5,2334.3 4036.6,2336.6 4039.7,2334.5 4042.8,2334 4045.9,2334.6 4049,2336.4 4052.1,2337.1 4055.2,2334 4058.3,2335.6 4061.4,2335.6 4064.5,2336.5 4067.6,2334.6 4070.7,2335.6 4073.8,2335.1 4076.8,2336.7 4079.9,2334.8 4083,2337 4086.1,2334.9 4089.2,2334.7 4092.3,2336.2 4095.4,2335.6 4098.5,2334.4 4101.6,2336 4104.7,2334.3 4107.8,2336.5 4110.9,2336.2 4114,2336.5 4117.1,2336 4120.2,2335.1 4123.3,2335.3 4126.4,2335.3 4129.5,2336.8 4132.6,2334.3 4135.7,2336.8 4138.8,2334.1 4141.9,2334.7 4145,2334.8 4148.1,2336.9 4151.2,2335.6 4154.3,2335.2 4157.4,2336.8 4160.5,2334.7 4163.6,2335.5 4166.7,2335.7 4169.8,2336.4 4172.9,2336.4 4176,2336.1 4179,2335.1 4182.1,2335 4185.2,2334.5 4188.3,2336.7 4191.4,2336.1 4194.5,2336.4 4197.6,2334.5 4200.7,2335.4 4203.8,2336.5 4206.9,2335.9 4210,2334.4 4213.1,2335.5 4216.2,2336.8 4219.3,2334.8 4222.4,2334.6 4225.5,2335 4228.6,2336.3 4228.6,2370 202.5,2370" fill="#f2f4f8" fill-opacity="0.9"/>
<polyline points="202.5,2335.5 205.6,2335.4 208.7,2335.7 211.8,2335.3 214.9,2335.6 218,2335.5 221.1,2335.3 224.2,2329.6 227.3,2335.3 230.4,2335.6 233.5,2335.3 236.6,2335.4 239.7,2335.6 242.8,2335.8 245.9,2335.4 249,2335.4 252.1,2335.7 255.1,2335.9 258.2,2335.6 261.3,2335.5 264.4,2335.9 267.5,2335.3 270.6,2335.8 273.7,2335.5 276.8,2335.4 279.9,2335.4 283,2335.5 286.1,2335.8 289.2,2335.4 292.3,2335.6 295.4,2335.7 298.5,2335.5 301.6,2335.6 304.7,2335.3 307.8,2335.3 310.9,2335.4 314,2335.7 317.1,2335.6 320.2,2335.5 323.3,2335.7 326.4,2335.6 329.5,2335.5 332.6,2335.8 335.7,2335.7 338.8,2335.4 341.9,2335.6 345,2335.6 348.1,2335.8 351.2,2335.7 354.3,2335.5 357.4,2335.9 360.4,2335.4 363.5,2335.6 366.6,2335.8 369.7,2335.4 372.8,2335.6 375.9,2335.3 379,2335.7 382.1,2335.8 385.2,2335.6 388.3,2335.8 391.4,2335.5 394.5,2335.7 397.6,2335.7 400.7,2335.6 403.8,2335.6 406.9,2335.8 410,2335.9 413.1,2335.6 416.2,2335.7 419.3,2335.3 422.4,2335.7 425.5,2335.7 428.6,2335.9 431.7,2335.8 434.8,2333.5 437.9,2335.5 441,2335.7 444.1,2335.3 447.2,2335.6 450.3,2335.4 453.4,2335.4 456.5,2335.3 459.6,2335.8 462.6,2335.4 465.7,2335.4 468.8,2335.5 471.9,2335.8 475,2335.3 478.1,2335.6 481.2,2335.6 484.3,2335.8 487.4,2335.8 490.5,2335.8 493.6,2335.5 496.7,2335.5 499.8,2335.5 502.9,2335.8 506,2335.9 509.1,2335.4 512.2,2335.4 515.3,2335.4 518.4,2335.4 521.5,2335.6 524.6,2335.7 527.7,2335.5 530.8,2335.3 533.9,2335.6 537,2335.5 540.1,2335.6 543.2,2335.9 546.3,2335.7 549.4,2335.6 552.5,2335.7 555.6,2335.7 558.7,2335.3 561.8,2335.8 564.8,2335.8 567.9,2335.8 571,2335.8 574.1,2335.5 577.2,2335.5 580.3,2335.4 583.4,2335.7 586.5,2335.3 589.6,2335.3 592.7,2335.4 595.8,2335.4 598.9,2335.5 602,2335.3 605.1,2335.3 608.2,2335.4 611.3,2335.4 614.4,2335.5 617.5,2335.3 620.6,2335.8 623.7,2335.7 626.8,2335.4 629.9,2335.5 633,2335.5 636.1,2335.5 639.2,2335.4 642.3,2335.8 645.4,2335.9 648.5,2335.6 651.6,2335.6 654.7,2335.4 657.8,2335.4 660.9,2335.5 664,2335.5 667,2335.8 670.1,2335.4 673.2,2335.3 676.3,2335.9 679.4,2335.6 682.5,2335.4 685.6,2335.6 688.7,2335.3 691.8,2335.6 694.9,2335.9 698,2335.8 701.1,2335.7 704.2,2335.5 707.3,2335.5 710.4,2335.4 713.5,2335.8 716.6,2335.6 719.7,2335.8 722.8,2335.5 725.9,2335.4 729,2335.8 732.1,2335.9 735.2,2326.8 738.3,2335.8 741.4,2335.8 744.5,2335.7 747.6,2335.4 750.7,2335.6 753.8,2335.5 756.9,2335.3 760,2335.3 763.1,2335.5 766.2,2335.5 769.3,2332.7 772.3,2335.9 775.4,2335.6 778.5,2335.9 781.6,2333.9 784.7,2335.9 787.8,2335.5 790.9,2335.4 794,2335.4 797.1,2335.4 800.2,2335.4 803.3,2335.7 806.4,2335.8 809.5,2335.8 812.6,2335.6 815.7,2335.7 818.8,2335.8 821.9,2335.4 825,2335.7 828.1,2335.8 831.2,2335.8 834.3,2335.8 837.4,2335.6 840.5,2335.4 843.6,2335.8 846.7,2335.5 849.8,2335.8 852.9,2335.9 856,2335.5 859.1,2335.5 862.2,2335.9 865.3,2335.7 868.4,2335.4 871.5,2335.4 874.5,2335.4 877.6,2335.8 880.7,2335.8 883.8,2335.4 886.9,2335.8 890,2335.9 893.1,2335.7 896.2,2335.5 899.3,2335.6 902.4,2335.4 905.5,2335.3 908.6,2335.9 911.7,2335.7 914.8,2335.6 917.9,2335.9 921,2335.6 924.1,2335.8 927.2,2335.8 930.3,2335.4 933.4,2335.5 936.5,2335.5 939.6,2335.4 942.7,2335.7 945.8,2335.5 948.9,2335.6 952,2335.4 955.1,2335.8 958.2,2335.5 961.3,2335.6 964.4,2335.7 967.5,2335.8 970.6,2335.6 973.7,2335.9 976.8,2335.6 979.8,2335.6 982.9,2335.6 986,2335.3 989.1,2335.6 992.2,2335.4 995.3,2335.3 998.4,2335.8 1001.5,2335.4 1004.6,2335.6 1007.7,2335.7 1010.8,2335.6 1013.9,2335.5 1017,2335.6 1020.1,2335.6 1023.2,2335.8 1026.3,2335.4 1029.4,2335.6 1032.5,2335.4 1035.6,2335.5 1038.7,2335.8 1041.8,2335.6 1044.9,2335.6 1048,2335.8 1051.1,2335.8 1054.2,2335.6 1057.3,2335.7 1060.4,2335.6 1063.5,2335.6 1066.6,2335.7 1069.7,2335.6 1072.8,2335.6 1075.9,2335.6 1079,2335.9 1082,2335.7 1085.1,2335.8 1088.2,2335.9 1091.3,2335.5 1094.4,2335.6 1097.5,2335.9 1100.6,2335.8 1103.7,2335.4 1106.8,2335.4 1109.9,2335.6 1113,2335.3 1116.1,2335.4 1119.2,2335.3 1122.3,2335.7 1125.4,2335.8 1128.5,2335.8 1131.6,2335.4 1134.7,2335.7 1137.8,2335.7 1140.9,2335.4 1144,2335.8 1147.1,2335.9 1150.2,2335.4 1153.3,2335.9 1156.4,2335.5 1159.5,2335.6 1162.6,2335.9 1165.7,2335.8 1168.8,2335.4 1171.9,2335.6 1175,2335.6 1178.1,2335.5 1181.2,2335.4 1184.2,2335.5 1187.3,2335.7 1190.4,2335.3 1193.5,2335.6 1196.6,2335.6 1199.7,2335.3 1202.8,2335.1 1205.9,2336 1209,2335.6 1212.1,2334.2 1215.2,2337.2 1218.3,2336.5 1221.4,2337.1 1224.5,2334.3 1227.6,2334.8 1230.7,2334.1 1233.8,2336.5 1236.9,2334.9 1240,2334.4 1243.1,2335.4 1246.2,2336.9 1249.3,2336.6 1252.4,2334.8 1255.5,2334.5 1258.6,2336.9 1261.7,2335.8 1264.8,2336.2 1267.9,2334.3 1271,2334.2 1274.1,2336.2 1277.2,2335.4 1280.3,2334.2 1283.4,2337 1286.5,2336 1289.5,2336.6 1292.6,2334.3 1295.7,2336.7 1298.8,2334.2 1301.9,2336.8 1305,2335.5 1308.1,2335.1 1311.2,2335.8 1314.3,2337 1317.4,2334.9 1320.5,2334.4 1323.6,2335.7 1326.7,2334.8 1329.8,2334.4 1332.9,2334.5 1336,2334.2 1339.1,2334.6 1342.2,2335 1345.3,2335 1348.4,2336.4 1351.5,2334.9 1354.6,2335.6 1357.7,2334.6 1360.8,2335.1 1363.9,2334.1 1367,2334.8 1370.1,2334 1373.2,2336.3 1376.3,2335.8 1379.4,2334.6 1382.5,2335.5 1385.6,2337 1388.7,2334.3 1391.7,2336.6 1394.8,2335.4 1397.9,2335.6 1401,2336.7 1404.1,2335.3 1407.2,2335.6 1410.3,2336.2 1413.4,2337.1 1416.5,2335.1 1419.6,2336.7 1422.7,2336.3 1425.8,2336 1428.9,2335.3 1432,2335.1 1435.1,2334.2 1438.2,2334.4 1441.3,2334.2 1444.4,2336.4 1447.5,2334.8 1450.6,2334.5 1453.7,2334.3 1456.8,2336.7 1459.9,2336.8 1463,2336.1 1466.1,2334.9 1469.2,2334.8 1472.3,2334.9 1475.4,2335.5 1478.5,2334.5 1481.6,2335.4 1484.7,2334.8 1487.8,2337.1 1490.9,2337.1 1493.9,2335.8 1497,2334.8 1500.1,2337.1 1503.2,2335 1506.3,2335.1 1509.4,2334 1512.5,2335.2 1515.6,2335.5 1518.7,2335.6 1521.8,2334.6 1524.9,2335.6 1528,2334 1531.1,2334.8 1534.2,2334.3 1537.3,2335.3 1540.4,2334.1 1543.5,2334.1 1546.6,2335 1549.7,2334.7 1552.8,2335.9 1555.9,2335.7 1559,2336.4 1562.1,2336.1 1565.2,2336.3 1568.3,2336.8 1571.4,2335.2 1574.5,2335 1577.6,2337.2 1580.7,2334.5 1583.8,2336.3 1586.9,2336.1 1590,2334.1 1593.1,2336.7 1596.2,2336.9 1599.2,2336 1602.3,2336.3 1605.4,2336.6 1608.5,2334.4 1611.6,2335.7 1614.7,2335.6 1617.8,2336.7 1620.9,2336.6 1624,2336.6 1627.1,2335.9 1630.2,2336.9 1633.3,2336.2 1636.4,2336.2 1639.5,2334.7 1642.6,2334.1 1645.7,2334.4 1648.8,2335.2 1651.9,2334.3 1655,2336.7 1658.1,2335.8 1661.2,2336 1664.3,2331 1667.4,2336.2 1670.5,2335.6 1673.6,2334 1676.7,2336.6 1679.8,2336.4 1682.9,2335.6 1686,2335.7 1689.1,2336.1 1692.2,2334.2 1695.3,2336.4 1698.4,2334.8 1701.4,2334.2 1704.5,2334.8 1707.6,2336.3 1710.7,2334.7 1713.8,2336.4 1716.9,2337.1 1720,2335.6 1723.1,2335.2 1726.2,2335.5 1729.3,2336.2 1732.4,2336.5 1735.5,2336 1738.6,2336.1 1741.7,2334.2 1744.8,2334.5 1747.9,2334.8 1751,2336.4 1754.1,2335 1757.2,2335.8 1760.3,2334 1763.4,2334.2 1766.5,2334.9 1769.6,2336.2 1772.7,2336.2 1775.8,2336.2 1778.9,2334.9 1782,2335.7 1785.1,2335.5 1788.2,2335.5 1791.3,2334.4 1794.4,2331.9 1797.5,2334.6 1800.6,2337.1 1803.6,2337 1806.7,2334.1 1809.8,2335.5 1812.9,2336.6 1816,2337.1 1819.1,2329.4 1822.2,2334.9 1825.3,2334.7 1828.4,2337 1831.5,2334.7 1834.6,2335.9 1837.7,2334.5 1840.8,2335.7 1843.9,2337 1847,2334.4 1850.1,2336.6 1853.2,2335.6 1856.3,2336.8 1859.4,2336.3 1862.5,2334.7 1865.6,2336.9 1868.7,2335.6 1871.8,2334.1 1874.9,2334 1878,2323.6 1881.1,2349.4 1884.2,2335 1887.3,2334.5 1890.4,2335.1 1893.5,2335 1896.6,2336.7 1899.7,2334 1902.8,2336.4 1905.8,2315.7 1908.9,2347.4 1912,2337 1915.1,2336.3 1918.2,2336.9 1921.3,2334.9 1924.4,2335.2 1927.5,2335.3 1930.6,2337.2 1933.7,2335.9 1936.8,2335.2 1939.9,2335.4 1943,2334.9 1946.1,2334.2 1949.2,2334.3 1952.3,2336.7 1955.4,2334.9 1958.5,2337 1961.6,2334.8 1964.7,2334.9 1967.8,2335.6 1970.9,2334.6 1974,2335.2 1977.1,2337.1 1980.2,2336.8 1983.3,2336.6 1986.4,2336 1989.5,2336.9 1992.6,2337 1995.7,2335.8 1998.8,2336.3 2001.9,2334.2 2005,2336.3 2008.1,2335.4 2011.1,2336.4 2014.2,2336.1 2017.3,2334.9 2020.4,2334.2 2023.5,2337 2026.6,2334.4 2029.7,2335.5 2032.8,2335.1 2035.9,2335 2039,2336.4 2042.1,2337.1 2045.2,2334.8 2048.3,2336.1 2051.4,2335 2054.5,2335.8 2057.6,2335.3 2060.7,2334.5 2063.8,2334.5 2066.9,2334.7 2070,2336.9 2073.1,2335.6 2076.2,2334.7 2079.3,2336.9 2082.4,2337.2 2085.5,2335.4 2088.6,2334.4 2091.7,2334.6 2094.8,2334.3 2097.9,2335.1 2101,2334.3 2104.1,2334.8 2107.2,2334.8 2110.3,2331.8 2113.3,2336.8 2116.4,2336.4 2119.5,2335.3 2122.6,2335.3 2125.7,2335.7 2128.8,2335.2 2131.9,2335.1 2135,2334.2 2138.1,2334.9 2141.2,2337.1 2144.3,2334.4 2147.4,2335.6 2150.5,2336 2153.6,2336.8 2156.7,2334.7 2159.8,2334.9 2162.9,2334.8 2166,2335.3 2169.1,2335.4 2172.2,2337.1 2175.3,2336.7 2178.4,2336.8 2181.5,2334.1 2184.6,2329.1 2187.7,2336.3 2190.8,2336.9 2193.9,2335.5 2197,2335.9 2200.1,2334 2203.2,2335.3 2206.3,2337 2209.4,2336.6 2212.5,2336.7 2215.6,2337.1 2218.6,2334.8 2221.7,2334.3 2224.8,2334.5 2227.9,2335.7 2231,2336.2 2234.1,2337 2237.2,2336.3 2240.3,2336.1 2243.4,2336.4 2246.5,2335.5 2249.6,2335.8 2252.7,2334.1 2255.8,2336.5 2258.9,2334.7 2262,2336.9 2265.1,2336.1 2268.2,2335 2271.3,2334.4 2274.4,2334.8 2277.5,2336 2280.6,2336.2 2283.7,2334.4 2286.8,2334.2 2289.9,2335.7 2293,2335.9 2296.1,2335.2 2299.2,2334.7 2302.3,2335.9 2305.4,2334 2308.5,2335 2311.6,2335.5 2314.7,2337.1 2317.8,2336.1 2320.8,2336.8 2323.9,2335.5 2327,2334.8 2330.1,2334.8 2333.2,2337.1 2336.3,2336.3 2339.4,2335 2342.5,2334.1 2345.6,2335.6 2348.7,2336.2 2351.8,2335.3 2354.9,2334.8 2358,2336.1 2361.1,2337 2364.2,2334.7 2367.3,2334.1 2370.4,2335.1 2373.5,2335.3 2376.6,2336.2 2379.7,2334.6 2382.8,2336.6 2385.9,2336.4 2389,2335.6 2392.1,2334.7 2395.2,2337.1 2398.3,2335 2401.4,2336.6 2404.5,2334.7 2407.6,2334.7 2410.7,2336.4 2413.8,2334.9 2416.9,2337 2420,2330.6 2423,2334.6 2426.1,2334.7 2429.2,2335.3 2432.3,2336.1 2435.4,2337 2438.5,2334.5 2441.6,2335.3 2444.7,2334.7 2447.8,2337.1 2450.9,2334.5 2454,2334.2 2457.1,2334.2 2460.2,2335.3 2463.3,2336.9 2466.4,2336.8 2469.5,2336.3 2472.6,2337.2 2475.7,2337 2478.8,2335.1 2481.9,2334.6 2485,2337 2488.1,2336.4 2491.2,2334.1 2494.3,2336.1 2497.4,2335.2 2500.5,2335.2 2503.6,2335.1 2506.7,2334.5 2509.8,2334 2512.9,2334.9 2516,2335.1 2519.1,2337.1 2522.2,2334.4 2525.3,2337.1 2528.3,2334.7 2531.4,2335.1 2534.5,2336.6 2537.6,2336.6 2540.7,2335.4 2543.8,2334.2 2546.9,2335.5 2550,2335.2 2553.1,2336.9 2556.2,2334.6 2559.3,2335.2 2562.4,2336.9 2565.5,2334.1 2568.6,2335.3 2571.7,2336.6 2574.8,2336.5 2577.9,2334.1 2581,2334.1 2584.1,2334.2 2587.2,2336.9 2590.3,2334.8 2593.4,2336.4 2596.5,2336.9 2599.6,2335.1 2602.7,2334.9 2605.8,2337.1 2608.9,2336 2612,2334.8 2615.1,2336.3 2618.2,2335 2621.3,2334.9 2624.4,2334 2627.5,2336.4 2630.5,2336.9 2633.6,2336 2636.7,2337 2639.8,2334.1 2642.9,2334.7 2646,2335.5 2649.1,2333.1 2652.2,2337.1 2655.3,2335.2 2658.4,2334.8 2661.5,2335.4 2664.6,2335.6 2667.7,2337 2670.8,2334.6 2673.9,2336.6 2677,2336.4 2680.1,2336.6 2683.2,2336.5 2686.3,2335.9 2689.4,2335 2692.5,2335 2695.6,2335.2 2698.7,2336.5 2701.8,2334.3 2704.9,2334.6 2708,2336.4 2711.1,2334.8 2714.2,2334.2 2717.3,2334.1 2720.4,2335.8 2723.5,2335 2726.6,2337.1 2729.7,2336.8 2732.7,2337.2 2735.8,2334.8 2738.9,2334.3 2742,2334.3 2745.1,2335.6 2748.2,2336.3 2751.3,2335.4 2754.4,2334.7 2757.5,2335.3 2760.6,2336 2763.7,2336.2 2766.8,2336.4 2769.9,2336.7 2773,2336.1 2776.1,2334.4 2779.2,2336.7 2782.3,2334.9 2785.4,2335.8 2788.5,2335.2 2791.6,2336.4 2794.7,2334.6 2797.8,2334.8 2800.9,2334.8 2804,2334.5 2807.1,2336.8 2810.2,2335.9 2813.3,2335 2816.4,2335.3 2819.5,2337.2 2822.6,2335.6 2825.7,2334.7 2828.8,2336.6 2831.9,2336.1 2835,2337.2 2838,2334.3 2841.1,2335.5 2844.2,2336.6 2847.3,2336.7 2850.4,2336.9 2853.5,2334.1 2856.6,2334.9 2859.7,2334.4 2862.8,2334.6 2865.9,2337.1 2869,2335.9 2872.1,2337 2875.2,2335.2 2878.3,2336.8 2881.4,2335.4 2884.5,2334.8 2887.6,2336.5 2890.7,2337 2893.8,2334.3 2896.9,2335.9 2900,2336 2903.1,2334.7 2906.2,2335.2 2909.3,2334.5 2912.4,2334.7 2915.5,2334.8 2918.6,2335.9 2921.7,2336.1 2924.8,2334.7 2927.9,2334 2931,2335 2934.1,2336.2 2937.2,2334.6 2940.2,2335 2943.3,2334.7 2946.4,2336.5 2949.5,2335.8 2952.6,2334.2 2955.7,2334.3 2958.8,2335.3 2961.9,2335.8 2965,2336 2968.1,2334.3 2971.2,2334.5 2974.3,2336.2 2977.4,2335.3 2980.5,2334.9 2983.6,2335 2986.7,2337.1 2989.8,2335 2992.9,2335.8 2996,2335.1 2999.1,2335.3 3002.2,2336.8 3005.3,2337.2 3008.4,2335.2 3011.5,2334.6 3014.6,2336.3 3017.7,2334.7 3020.8,2334 3023.9,2336.9 3027,2335.4 3030.1,2336.6 3033.2,2335.3 3036.3,2336.8 3039.4,2335.5 3042.4,2334.5 3045.5,2334 3048.6,2335.8 3051.7,2336.1 3054.8,2336.9 3057.9,2334.3 3061,2336 3064.1,2328.2 3067.2,2335.6 3070.3,2334.5 3073.4,2334.9 3076.5,2335.7 3079.6,2337 3082.7,2334.3 3085.8,2335.6 3088.9,2336.6 3092,2337.1 3095.1,2334.6 3098.2,2334.4 3101.3,2337 3104.4,2337.1 3107.5,2335.5 3110.6,2334.2 3113.7,2337 3116.8,2335.2 3119.9,2336.9 3123,2336 3126.1,2336.6 3129.2,2334.5 3132.3,2336.5 3135.4,2334.7 3138.5,2335.3 3141.6,2336.7 3144.7,2336.7 3147.7,2334.6 3150.8,2334.7 3153.9,2335.3 3157,2335.7 3160.1,2335.2 3163.2,2334.4 3166.3,2334.8 3169.4,2336.3 3172.5,2336.9 3175.6,2334.1 3178.7,2335.8 3181.8,2336.4 3184.9,2334.1 3188,2336.7 3191.1,2334.4 3194.2,2335.9 3197.3,2335.8 3200.4,2336 3203.5,2335 3206.6,2335.3 3209.7,2335.9 3212.8,2335.4 3215.9,2336.1 3219,2335.4 3222.1,2335.4 3225.2,2334.1 3228.3,2336 3231.4,2335.6 3234.5,2334.8 3237.6,2336.4 3240.7,2336.5 3243.8,2335.5 3246.9,2334.6 3249.9,2335.5 3253,2334.3 3256.1,2334.4 3259.2,2335.4 3262.3,2334.3 3265.4,2335.4 3268.5,2335.6 3271.6,2334.1 3274.7,2336 3277.8,2334.3 3280.9,2336.3 3284,2336.5 3287.1,2335.6 3290.2,2334.2 3293.3,2335.6 3296.4,2335.2 3299.5,2337 3302.6,2334.4 3305.7,2336.7 3308.8,2337.2 3311.9,2336.3 3315,2336.6 3318.1,2334.6 3321.2,2337.1 3324.3,2335.6 3327.4,2337.1 3330.5,2336.9 3333.6,2334.5 3336.7,2336.5 3339.8,2337 3342.9,2334.2 3346,2335.1 3349.1,2336.4 3352.1,2334.5 3355.2,2332.9 3358.3,2334.9 3361.4,2336.6 3364.5,2334.5 3367.6,2335.6 3370.7,2336.9 3373.8,2334.7 3376.9,2334.8 3380,2335.6 3383.1,2335 3386.2,2334.1 3389.3,2334.6 3392.4,2334.5 3395.5,2337 3398.6,2336.2 3401.7,2336.9 3404.8,2334.5 3407.9,2336.5 3411,2334.4 3414.1,2335.7 3417.2,2336 3420.3,2335.2 3423.4,2336.8 3426.5,2335.8 3429.6,2335.9 3432.7,2336.8 3435.8,2334.3 3438.9,2337.2 3442,2336 3445.1,2335.3 3448.2,2336.6 3451.3,2334.8 3454.3,2337.2 3457.4,2335.8 3460.5,2335.2 3463.6,2336.4 3466.7,2335.4 3469.8,2334.6 3472.9,2336.4 3476,2334.2 3479.1,2336.6 3482.2,2334.8 3485.3,2336 3488.4,2337.1 3491.5,2335.9 3494.6,2336.1 3497.7,2335 3500.8,2334 3503.9,2334.1 3507,2334.5 3510.1,2336 3513.2,2335.4 3516.3,2335.6 3519.4,2336.9 3522.5,2334.4 3525.6,2334.7 3528.7,2336.1 3531.8,2334.1 3534.9,2334 3538,2335.1 3541.1,2334.3 3544.2,2335.1 3547.3,2334.7 3550.4,2335.9 3553.5,2335.9 3556.6,2334.7 3559.6,2336 3562.7,2335.5 3565.8,2334.4 3568.9,2337 3572,2334.8 3575.1,2334.5 3578.2,2334.3 3581.3,2336 3584.4,2336.8 3587.5,2336.5 3590.6,2335.3 3593.7,2334.8 3596.8,2334 3599.9,2336.1 3603,2335.8 3606.1,2335.1 3609.2,2336.1 3612.3,2335.4 3615.4,2337 3618.5,2336.3 3621.6,2334.8 3624.7,2336.9 3627.8,2334.1 3630.9,2335.7 3634,2335.3 3637.1,2334.8 3640.2,2334.2 3643.3,2336.5 3646.4,2334 3649.5,2335.8 3652.6,2337 3655.7,2334.5 3658.8,2334.6 3661.8,2335.9 3664.9,2335.6 3668,2336.1 3671.1,2336.6 3674.2,2334.6 3677.3,2335 3680.4,2335 3683.5,2334.2 3686.6,2336.8 3689.7,2336.5 3692.8,2344.3 3695.9,2334 3699,2336.7 3702.1,2336.4 3705.2,2335.5 3708.3,2336.4 3711.4,2335.4 3714.5,2334.7 3717.6,2334.3 3720.7,2334.7 3723.8,2334.1 3726.9,2335.1 3730,2331.4 3733.1,2336.2 3736.2,2336.7 3739.3,2336.3 3742.4,2334.9 3745.5,2335.8 3748.6,2335.4 3751.7,2336.5 3754.8,2335.7 3757.9,2334.8 3761,2332.1 3764.1,2337.1 3767.1,2334.7 3770.2,2336.8 3773.3,2334 3776.4,2334.8 3779.5,2334.8 3782.6,2336.4 3785.7,2337 3788.8,2336.4 3791.9,2335 3795,2336.8 3798.1,2335.1 3801.2,2334.8 3804.3,2336.9 3807.4,2336 3810.5,2336.2 3813.6,2336.1 3816.7,2337.1 3819.8,2335.5 3822.9,2336.7 3826,2336.2 3829.1,2336.7 3832.2,2335.4 3835.3,2336.3 3838.4,2335.8 3841.5,2335 3844.6,2334.7 3847.7,2325 3850.8,2334.2 3853.9,2336.9 3857,2334.5 3860.1,2334.1 3863.2,2334.3 3866.3,2337 3869.3,2335.1 3872.4,2334.5 3875.5,2334.1 3878.6,2334.1 3881.7,2336.2 3884.8,2336 3887.9,2336.2 3891,2336.4 3894.1,2334.2 3897.2,2335.9 3900.3,2335.2 3903.4,2336.6 3906.5,2336.6 3909.6,2336.9 3912.7,2334.2 3915.8,2336.8 3918.9,2336.9 3922,2337 3925.1,2334.3 3928.2,2334.7 3931.3,2334.4 3934.4,2334.1 3937.5,2336.7 3940.6,2336.6 3943.7,2336 3946.8,2336.6 3949.9,2336 3953,2334.9 3956.1,2334.3 3959.2,2334.3 3962.3,2336.4 3965.4,2334.7 3968.5,2335 3971.5,2335.4 3974.6,2334.1 3977.7,2334.8 3980.8,2334.9 3983.9,2336.3 3987,2335.2 3990.1,2335 3993.2,2337.1 3996.3,2335.6 3999.4,2336.7 4002.5,2336 4005.6,2334.1 4008.7,2335.3 4011.8,2335.4 4014.9,2336.5 4018,2335.1 4021.1,2336.3 4024.2,2335.7 4027.3,2334.7 4030.4,2336.8 4033.5,2334.3 4036.6,2336.6 4039.7,2334.5 4042.8,2334 4045.9,2334.6 4049,2336.4 4052.1,2337.1 4055.2,2334 4058.3,2335.6 4061.4,2335.6 4064.5,2336.5 4067.6,2334.6 4070.7,2335.6 4073.8,2335.1 4076.8,2336.7 4079.9,2334.8 4083,2337 4086.1,2334.9 4089.2,2334.7 4092.3,2336.2 4095.4,2335.6 4098.5,2334.4 4101.6,2336 4104.7,2334.3 4107.8,2336.5 4110.9,2336.2 4114,2336.5 4117.1,2336 4120.2,2335.1 4123.3,2335.3 4126.4,2335.3 4129.5,2336.8 4132.6,2334.3 4135.7,2336.8 4138.8,2334.1 4141.9,2334.7 4145,2334.8 4148.1,2336.9 4151.2,2335.6 4154.3,2335.2 4157.4,2336.8 4160.5,2334.7 4163.6,2335.5 4166.7,2335.7 4169.8,2336.4 4172.9,2336.4 4176,2336.1 4179,2335.1 4182.1,2335 4185.2,2334.5 4188.3,2336.7 4191.4,2336.1 4194.5,2336.4 4197.6,2334.5 4200.7,2335.4 4203.8,2336.5 4206.9,2335.9 4210,2334.4 4213.1,2335.5 4216.2,2336.8 4219.3,2334.8 4222.4,2334.6 4225.5,2335 4228.6,2336.3" fill="none" stroke="#dfe2e8" stroke-width="1.5"/>
<path d="M202.5 2370 V2312.4 a6 6 0 0 1 6 -6 H4228.6" fill="none" stroke="#dcdee3" stroke-width="1.6"/>
<rect x="4228.6" y="2306.4" width="225.2" height="64" fill="#dfe8fb" fill-opacity="0.75"/>
<polygon points="4234.6,2336 4236.4,2334.4 4238.2,2334.9 4239.9,2334.8 4241.7,2333.7 4243.5,2333.1 4245.3,2332.3 4247,2334.5 4248.8,2335.8 4250.6,2338.3 4252.4,2336.4 4254.1,2333.2 4255.9,2335.6 4257.7,2333.6 4259.5,2334.6 4261.2,2335.9 4263,2334.8 4264.8,2335.1 4266.6,2335.7 4268.4,2336.1 4270.1,2337.1 4271.9,2333.7 4273.7,2332.4 4275.5,2332.9 4277.2,2333 4279,2335.2 4280.8,2336.5 4282.6,2335.7 4284.3,2335 4286.1,2336.1 4287.9,2336.1 4289.7,2334.5 4291.5,2334.3 4293.2,2332.6 4295,2334.1 4296.8,2336.4 4298.6,2336.5 4300.3,2336.9 4302.1,2336.2 4303.9,2334.3 4305.7,2333.7 4307.4,2335.7 4309.2,2336.1 4311,2335 4312.8,2334.3 4314.6,2335.5 4316.3,2336.6 4318.1,2337.6 4319.9,2336.4 4321.7,2334.2 4323.4,2333.7 4325.2,2332.3 4327,2334.4 4328.8,2336.3 4330.5,2336 4332.3,2335.3 4334.1,2334.3 4335.9,2335.7 4337.6,2336.3 4339.4,2335.9 4341.2,2333.6 4343,2333.3 4344.8,2334.8 4346.5,2334.4 4348.3,2337.1 4350.1,2337.2 4351.9,2335 4353.6,2334.6 4355.4,2336.3 4357.2,2333.9 4359,2335 4360.7,2332.9 4362.5,2334.3 4364.3,2335.8 4366.1,2336.3 4367.9,2336 4369.6,2336.6 4371.4,2334.8 4373.2,2334.1 4375,2333.8 4376.7,2335.2 4378.5,2336.3 4380.3,2335 4382.1,2334.4 4383.8,2336.5 4385.6,2335.4 4387.4,2337.2 4389.2,2335.2 4390.9,2334.5 4392.7,2331.7 4394.5,2335.1 4396.3,2335 4398.1,2335.1 4399.8,2335.4 4401.6,2334.9 4403.4,2333.3 4405.2,2335 4406.9,2335.2 4408.7,2335.3 4410.5,2333.2 4412.3,2332.6 4414,2333.7 4415.8,2337.1 4417.6,2338.5 4419.4,2336.3 4421.2,2333.7 4422.9,2334.5 4424.7,2333.7 4426.5,2334 4428.3,2334 4430,2335.5 4431.8,2335.4 4433.6,2335.7 4435.4,2336.4 4437.1,2336.9 4438.9,2334.5 4440.7,2334.9 4442.5,2332.4 4444.2,2334.3 4446,2336.4 4447.8,2337.2 4447.8,2370 4234.6,2370" fill="#c9d7f8" fill-opacity="0.8"/>
<polyline points="4234.6,2336 4236.4,2334.4 4238.2,2334.9 4239.9,2334.8 4241.7,2333.7 4243.5,2333.1 4245.3,2332.3 4247,2334.5 4248.8,2335.8 4250.6,2338.3 4252.4,2336.4 4254.1,2333.2 4255.9,2335.6 4257.7,2333.6 4259.5,2334.6 4261.2,2335.9 4263,2334.8 4264.8,2335.1 4266.6,2335.7 4268.4,2336.1 4270.1,2337.1 4271.9,2333.7 4273.7,2332.4 4275.5,2332.9 4277.2,2333 4279,2335.2 4280.8,2336.5 4282.6,2335.7 4284.3,2335 4286.1,2336.1 4287.9,2336.1 4289.7,2334.5 4291.5,2334.3 4293.2,2332.6 4295,2334.1 4296.8,2336.4 4298.6,2336.5 4300.3,2336.9 4302.1,2336.2 4303.9,2334.3 4305.7,2333.7 4307.4,2335.7 4309.2,2336.1 4311,2335 4312.8,2334.3 4314.6,2335.5 4316.3,2336.6 4318.1,2337.6 4319.9,2336.4 4321.7,2334.2 4323.4,2333.7 4325.2,2332.3 4327,2334.4 4328.8,2336.3 4330.5,2336 4332.3,2335.3 4334.1,2334.3 4335.9,2335.7 4337.6,2336.3 4339.4,2335.9 4341.2,2333.6 4343,2333.3 4344.8,2334.8 4346.5,2334.4 4348.3,2337.1 4350.1,2337.2 4351.9,2335 4353.6,2334.6 4355.4,2336.3 4357.2,2333.9 4359,2335 4360.7,2332.9 4362.5,2334.3 4364.3,2335.8 4366.1,2336.3 4367.9,2336 4369.6,2336.6 4371.4,2334.8 4373.2,2334.1 4375,2333.8 4376.7,2335.2 4378.5,2336.3 4380.3,2335 4382.1,2334.4 4383.8,2336.5 4385.6,2335.4 4387.4,2337.2 4389.2,2335.2 4390.9,2334.5 4392.7,2331.7 4394.5,2335.1 4396.3,2335 4398.1,2335.1 4399.8,2335.4 4401.6,2334.9 4403.4,2333.3 4405.2,2335 4406.9,2335.2 4408.7,2335.3 4410.5,2333.2 4412.3,2332.6 4414,2333.7 4415.8,2337.1 4417.6,2338.5 4419.4,2336.3 4421.2,2333.7 4422.9,2334.5 4424.7,2333.7 4426.5,2334 4428.3,2334 4430,2335.5 4431.8,2335.4 4433.6,2335.7 4435.4,2336.4 4437.1,2336.9 4438.9,2334.5 4440.7,2334.9 4442.5,2332.4 4444.2,2334.3 4446,2336.4 4447.8,2337.2" fill="none" stroke="#a9b3e4" stroke-width="1.5"/>
<path d="M4226.6 2306.4 V2299 a5 5 0 0 1 5 -5 H4450.8 a5 5 0 0 1 5 5 V2306.4 Z" fill="#dfe3ef"/>
<g stroke="#ffffff" stroke-width="2" stroke-opacity="0.9"><line x1="4338" y1="2296" x2="4338" y2="2304"/><line x1="4342" y1="2296" x2="4342" y2="2304"/><line x1="4346" y1="2296" x2="4346" y2="2304"/></g>
<line x1="4228.6" y1="2306.4" x2="4453.8" y2="2306.4" stroke="#c3cad8" stroke-width="2"/>
<line x1="4228.6" y1="2306.4" x2="4228.6" y2="2318" stroke="#b4bccb" stroke-width="2"/>
<rect x="4222.6" y="2317" width="12" height="40" rx="3" ry="3" fill="#ffffff" stroke="#b4bccb" stroke-width="2"/>
<line x1="4453.8" y1="2306.4" x2="4453.8" y2="2318" stroke="#b4bccb" stroke-width="2"/>
<rect x="4447.8" y="2317" width="12" height="40" rx="3" ry="3" fill="#ffffff" stroke="#b4bccb" stroke-width="2"/>
</g>
<rect x="0" y="2338" width="4688" height="15" fill="url(#fade)"/>
<rect x="0" y="2353" width="4688" height="41" fill="#fff"/>
</svg></body></html>
